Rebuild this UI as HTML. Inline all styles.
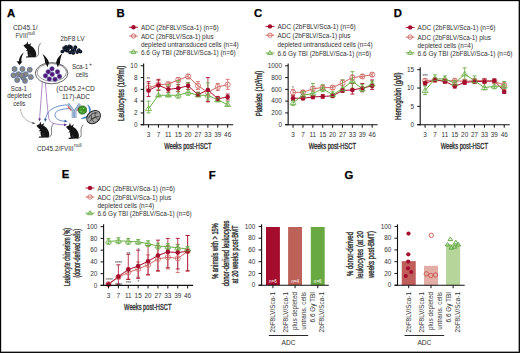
<!DOCTYPE html><html><head><meta charset="utf-8"><style>html,body{margin:0;padding:0;background:#fff;overflow:hidden;font-family:"Liberation Sans",sans-serif}svg{display:block}</style></head><body><svg width="520" height="353" viewBox="0 0 520 353" font-family="'Liberation Sans', sans-serif">
<rect x="0" y="0" width="520" height="353" fill="#fff"/>
<text x="7.00" y="16.90" font-size="11.3" fill="#000" font-weight="bold" stroke="#000" stroke-width="0.25">A</text>
<text x="116.60" y="17.00" font-size="11.3" fill="#000" font-weight="bold" stroke="#000" stroke-width="0.25">B</text>
<text x="254.00" y="17.10" font-size="11.3" fill="#000" font-weight="bold" stroke="#000" stroke-width="0.25">C</text>
<text x="393.70" y="16.90" font-size="11.3" fill="#000" font-weight="bold" stroke="#000" stroke-width="0.25">D</text>
<text x="61.80" y="178.30" font-size="11.3" fill="#000" font-weight="bold" stroke="#000" stroke-width="0.25">E</text>
<text x="208.80" y="178.60" font-size="11.3" fill="#000" font-weight="bold" stroke="#000" stroke-width="0.25">F</text>
<text x="344.40" y="178.80" font-size="11.3" fill="#000" font-weight="bold" stroke="#000" stroke-width="0.25">G</text>
<line x1="129.10" y1="27.25" x2="137.90" y2="27.25" stroke="#a50d2e" stroke-width="1" />
<circle cx="133.50" cy="27.25" r="2.2" fill="#a50d2e"/>
<text x="140.90" y="29.95" font-size="6.4" fill="#333" textLength="77.85" lengthAdjust="spacingAndGlyphs" >ADC (2bF8LV/Sca-1) (n=6)</text>
<line x1="129.10" y1="36.00" x2="137.90" y2="36.00" stroke="#cf6a66" stroke-width="1" />
<circle cx="133.50" cy="36.00" r="2.2" fill="none" stroke="#cf6a66" stroke-width="0.9"/>
<text x="140.90" y="38.70" font-size="6.4" fill="#333" textLength="72.85" lengthAdjust="spacingAndGlyphs" >ADC (2bF8LV/Sca-1) plus</text>
<text x="140.90" y="46.50" font-size="6.4" fill="#333" textLength="97.85" lengthAdjust="spacingAndGlyphs" >depleted untransduced cells (n=4)</text>
<line x1="129.10" y1="51.90" x2="137.90" y2="51.90" stroke="#6aad45" stroke-width="1" />
<path d="M133.50,49.43 L136.02,53.42 L130.98,53.42 Z" fill="none" stroke="#6aad45" stroke-width="0.9" stroke-linejoin="round"/>
<text x="140.90" y="54.60" font-size="6.4" fill="#333" textLength="94.85" lengthAdjust="spacingAndGlyphs" >6.6 Gy TBI (2bF8LV/Sca-1) (n=6)</text>
<line x1="148.55" y1="83.47" x2="148.55" y2="91.72" stroke="#cf6a66" stroke-width="0.8" />
<line x1="146.55" y1="83.47" x2="150.55" y2="83.47" stroke="#cf6a66" stroke-width="0.9" />
<line x1="146.55" y1="91.72" x2="150.55" y2="91.72" stroke="#cf6a66" stroke-width="0.9" />
<line x1="158.44" y1="80.53" x2="158.44" y2="89.36" stroke="#cf6a66" stroke-width="0.8" />
<line x1="156.44" y1="80.53" x2="160.44" y2="80.53" stroke="#cf6a66" stroke-width="0.9" />
<line x1="156.44" y1="89.36" x2="160.44" y2="89.36" stroke="#cf6a66" stroke-width="0.9" />
<line x1="168.33" y1="82.29" x2="168.33" y2="86.42" stroke="#cf6a66" stroke-width="0.8" />
<line x1="166.33" y1="82.29" x2="170.33" y2="82.29" stroke="#cf6a66" stroke-width="0.9" />
<line x1="166.33" y1="86.42" x2="170.33" y2="86.42" stroke="#cf6a66" stroke-width="0.9" />
<line x1="178.22" y1="77.58" x2="178.22" y2="82.29" stroke="#cf6a66" stroke-width="0.8" />
<line x1="176.22" y1="77.58" x2="180.22" y2="77.58" stroke="#cf6a66" stroke-width="0.9" />
<line x1="176.22" y1="82.29" x2="180.22" y2="82.29" stroke="#cf6a66" stroke-width="0.9" />
<line x1="188.11" y1="74.64" x2="188.11" y2="78.76" stroke="#cf6a66" stroke-width="0.8" />
<line x1="186.11" y1="74.64" x2="190.11" y2="74.64" stroke="#cf6a66" stroke-width="0.9" />
<line x1="186.11" y1="78.76" x2="190.11" y2="78.76" stroke="#cf6a66" stroke-width="0.9" />
<line x1="198.00" y1="81.70" x2="198.00" y2="89.36" stroke="#cf6a66" stroke-width="0.8" />
<line x1="196.00" y1="81.70" x2="200.00" y2="81.70" stroke="#cf6a66" stroke-width="0.9" />
<line x1="196.00" y1="89.36" x2="200.00" y2="89.36" stroke="#cf6a66" stroke-width="0.9" />
<line x1="207.89" y1="89.36" x2="207.89" y2="101.73" stroke="#cf6a66" stroke-width="0.8" />
<line x1="205.89" y1="89.36" x2="209.89" y2="89.36" stroke="#cf6a66" stroke-width="0.9" />
<line x1="205.89" y1="101.73" x2="209.89" y2="101.73" stroke="#cf6a66" stroke-width="0.9" />
<line x1="217.78" y1="83.47" x2="217.78" y2="90.54" stroke="#cf6a66" stroke-width="0.8" />
<line x1="215.78" y1="83.47" x2="219.78" y2="83.47" stroke="#cf6a66" stroke-width="0.9" />
<line x1="215.78" y1="90.54" x2="219.78" y2="90.54" stroke="#cf6a66" stroke-width="0.9" />
<line x1="227.67" y1="79.35" x2="227.67" y2="89.36" stroke="#cf6a66" stroke-width="0.8" />
<line x1="225.67" y1="79.35" x2="229.67" y2="79.35" stroke="#cf6a66" stroke-width="0.9" />
<line x1="225.67" y1="89.36" x2="229.67" y2="89.36" stroke="#cf6a66" stroke-width="0.9" />
<path d="M148.55,87.59 L158.44,84.65 L168.33,84.06 L178.22,79.94 L188.11,76.40 L198.00,85.83 L207.89,92.31 L217.78,87.00 L227.67,84.65" fill="none" stroke="#cf6a66" stroke-width="1.0"/>
<line x1="148.55" y1="81.70" x2="148.55" y2="96.43" stroke="#a50d2e" stroke-width="0.8" />
<line x1="146.55" y1="81.70" x2="150.55" y2="81.70" stroke="#a50d2e" stroke-width="0.9" />
<line x1="146.55" y1="96.43" x2="150.55" y2="96.43" stroke="#a50d2e" stroke-width="0.9" />
<line x1="158.44" y1="79.35" x2="158.44" y2="90.54" stroke="#a50d2e" stroke-width="0.8" />
<line x1="156.44" y1="79.35" x2="160.44" y2="79.35" stroke="#a50d2e" stroke-width="0.9" />
<line x1="156.44" y1="90.54" x2="160.44" y2="90.54" stroke="#a50d2e" stroke-width="0.9" />
<line x1="168.33" y1="86.42" x2="168.33" y2="92.31" stroke="#a50d2e" stroke-width="0.8" />
<line x1="166.33" y1="86.42" x2="170.33" y2="86.42" stroke="#a50d2e" stroke-width="0.9" />
<line x1="166.33" y1="92.31" x2="170.33" y2="92.31" stroke="#a50d2e" stroke-width="0.9" />
<line x1="178.22" y1="84.65" x2="178.22" y2="91.72" stroke="#a50d2e" stroke-width="0.8" />
<line x1="176.22" y1="84.65" x2="180.22" y2="84.65" stroke="#a50d2e" stroke-width="0.9" />
<line x1="176.22" y1="91.72" x2="180.22" y2="91.72" stroke="#a50d2e" stroke-width="0.9" />
<line x1="188.11" y1="82.88" x2="188.11" y2="89.36" stroke="#a50d2e" stroke-width="0.8" />
<line x1="186.11" y1="82.88" x2="190.11" y2="82.88" stroke="#a50d2e" stroke-width="0.9" />
<line x1="186.11" y1="89.36" x2="190.11" y2="89.36" stroke="#a50d2e" stroke-width="0.9" />
<line x1="198.00" y1="92.31" x2="198.00" y2="96.43" stroke="#a50d2e" stroke-width="0.8" />
<line x1="196.00" y1="92.31" x2="200.00" y2="92.31" stroke="#a50d2e" stroke-width="0.9" />
<line x1="196.00" y1="96.43" x2="200.00" y2="96.43" stroke="#a50d2e" stroke-width="0.9" />
<line x1="207.89" y1="77.58" x2="207.89" y2="101.73" stroke="#a50d2e" stroke-width="0.8" />
<line x1="205.89" y1="77.58" x2="209.89" y2="77.58" stroke="#a50d2e" stroke-width="0.9" />
<line x1="205.89" y1="101.73" x2="209.89" y2="101.73" stroke="#a50d2e" stroke-width="0.9" />
<line x1="217.78" y1="96.43" x2="217.78" y2="101.14" stroke="#a50d2e" stroke-width="0.8" />
<line x1="215.78" y1="96.43" x2="219.78" y2="96.43" stroke="#a50d2e" stroke-width="0.9" />
<line x1="215.78" y1="101.14" x2="219.78" y2="101.14" stroke="#a50d2e" stroke-width="0.9" />
<line x1="227.67" y1="94.07" x2="227.67" y2="99.96" stroke="#a50d2e" stroke-width="0.8" />
<line x1="225.67" y1="94.07" x2="229.67" y2="94.07" stroke="#a50d2e" stroke-width="0.9" />
<line x1="225.67" y1="99.96" x2="229.67" y2="99.96" stroke="#a50d2e" stroke-width="0.9" />
<path d="M148.55,90.54 L158.44,85.24 L168.33,89.36 L178.22,88.18 L188.11,85.83 L198.00,94.66 L207.89,89.95 L217.78,98.78 L227.67,97.02" fill="none" stroke="#a50d2e" stroke-width="1.0"/>
<line x1="148.55" y1="101.14" x2="148.55" y2="112.92" stroke="#6aad45" stroke-width="0.8" />
<line x1="146.55" y1="101.14" x2="150.55" y2="101.14" stroke="#6aad45" stroke-width="0.9" />
<line x1="146.55" y1="112.92" x2="150.55" y2="112.92" stroke="#6aad45" stroke-width="0.9" />
<line x1="158.44" y1="84.65" x2="158.44" y2="96.43" stroke="#6aad45" stroke-width="0.8" />
<line x1="156.44" y1="84.65" x2="160.44" y2="84.65" stroke="#6aad45" stroke-width="0.9" />
<line x1="156.44" y1="96.43" x2="160.44" y2="96.43" stroke="#6aad45" stroke-width="0.9" />
<line x1="168.33" y1="84.65" x2="168.33" y2="96.43" stroke="#6aad45" stroke-width="0.8" />
<line x1="166.33" y1="84.65" x2="170.33" y2="84.65" stroke="#6aad45" stroke-width="0.9" />
<line x1="166.33" y1="96.43" x2="170.33" y2="96.43" stroke="#6aad45" stroke-width="0.9" />
<line x1="178.22" y1="80.53" x2="178.22" y2="98.20" stroke="#6aad45" stroke-width="0.8" />
<line x1="176.22" y1="80.53" x2="180.22" y2="80.53" stroke="#6aad45" stroke-width="0.9" />
<line x1="176.22" y1="98.20" x2="180.22" y2="98.20" stroke="#6aad45" stroke-width="0.9" />
<line x1="188.11" y1="82.88" x2="188.11" y2="95.25" stroke="#6aad45" stroke-width="0.8" />
<line x1="186.11" y1="82.88" x2="190.11" y2="82.88" stroke="#6aad45" stroke-width="0.9" />
<line x1="186.11" y1="95.25" x2="190.11" y2="95.25" stroke="#6aad45" stroke-width="0.9" />
<line x1="198.00" y1="92.31" x2="198.00" y2="96.43" stroke="#6aad45" stroke-width="0.8" />
<line x1="196.00" y1="92.31" x2="200.00" y2="92.31" stroke="#6aad45" stroke-width="0.9" />
<line x1="196.00" y1="96.43" x2="200.00" y2="96.43" stroke="#6aad45" stroke-width="0.9" />
<line x1="207.89" y1="82.88" x2="207.89" y2="99.96" stroke="#6aad45" stroke-width="0.8" />
<line x1="205.89" y1="82.88" x2="209.89" y2="82.88" stroke="#6aad45" stroke-width="0.9" />
<line x1="205.89" y1="99.96" x2="209.89" y2="99.96" stroke="#6aad45" stroke-width="0.9" />
<line x1="217.78" y1="97.61" x2="217.78" y2="101.73" stroke="#6aad45" stroke-width="0.8" />
<line x1="215.78" y1="97.61" x2="219.78" y2="97.61" stroke="#6aad45" stroke-width="0.9" />
<line x1="215.78" y1="101.73" x2="219.78" y2="101.73" stroke="#6aad45" stroke-width="0.9" />
<line x1="227.67" y1="101.73" x2="227.67" y2="105.85" stroke="#6aad45" stroke-width="0.8" />
<line x1="225.67" y1="101.73" x2="229.67" y2="101.73" stroke="#6aad45" stroke-width="0.9" />
<line x1="225.67" y1="105.85" x2="229.67" y2="105.85" stroke="#6aad45" stroke-width="0.9" />
<path d="M148.55,108.80 L158.44,95.25 L168.33,95.25 L178.22,95.25 L188.11,92.31 L198.00,95.25 L207.89,95.25 L217.78,99.96 L227.67,104.67" fill="none" stroke="#6aad45" stroke-width="1.0"/>
<circle cx="148.55" cy="87.59" r="2.6" fill="none" stroke="#cf6a66" stroke-width="0.8"/>
<circle cx="158.44" cy="84.65" r="2.6" fill="none" stroke="#cf6a66" stroke-width="0.8"/>
<circle cx="168.33" cy="84.06" r="2.6" fill="none" stroke="#cf6a66" stroke-width="0.8"/>
<circle cx="178.22" cy="79.94" r="2.6" fill="none" stroke="#cf6a66" stroke-width="0.8"/>
<circle cx="188.11" cy="76.40" r="2.6" fill="none" stroke="#cf6a66" stroke-width="0.8"/>
<circle cx="198.00" cy="85.83" r="2.6" fill="none" stroke="#cf6a66" stroke-width="0.8"/>
<circle cx="207.89" cy="92.31" r="2.6" fill="none" stroke="#cf6a66" stroke-width="0.8"/>
<circle cx="217.78" cy="87.00" r="2.6" fill="none" stroke="#cf6a66" stroke-width="0.8"/>
<circle cx="227.67" cy="84.65" r="2.6" fill="none" stroke="#cf6a66" stroke-width="0.8"/>
<circle cx="148.55" cy="90.54" r="2.3" fill="#a50d2e"/>
<circle cx="158.44" cy="85.24" r="2.3" fill="#a50d2e"/>
<circle cx="168.33" cy="89.36" r="2.3" fill="#a50d2e"/>
<circle cx="178.22" cy="88.18" r="2.3" fill="#a50d2e"/>
<circle cx="188.11" cy="85.83" r="2.3" fill="#a50d2e"/>
<circle cx="198.00" cy="94.66" r="2.3" fill="#a50d2e"/>
<circle cx="207.89" cy="89.95" r="2.3" fill="#a50d2e"/>
<circle cx="217.78" cy="98.78" r="2.3" fill="#a50d2e"/>
<circle cx="227.67" cy="97.02" r="2.3" fill="#a50d2e"/>
<path d="M148.55,105.85 L151.55,110.60 L145.55,110.60 Z" fill="none" stroke="#6aad45" stroke-width="0.8" stroke-linejoin="round"/>
<path d="M158.44,92.31 L161.44,97.06 L155.44,97.06 Z" fill="none" stroke="#6aad45" stroke-width="0.8" stroke-linejoin="round"/>
<path d="M168.33,92.31 L171.33,97.06 L165.33,97.06 Z" fill="none" stroke="#6aad45" stroke-width="0.8" stroke-linejoin="round"/>
<path d="M178.22,92.31 L181.22,97.06 L175.22,97.06 Z" fill="none" stroke="#6aad45" stroke-width="0.8" stroke-linejoin="round"/>
<path d="M188.11,89.36 L191.11,94.11 L185.11,94.11 Z" fill="none" stroke="#6aad45" stroke-width="0.8" stroke-linejoin="round"/>
<path d="M198.00,92.31 L201.00,97.06 L195.00,97.06 Z" fill="none" stroke="#6aad45" stroke-width="0.8" stroke-linejoin="round"/>
<path d="M207.89,92.31 L210.89,97.06 L204.89,97.06 Z" fill="none" stroke="#6aad45" stroke-width="0.8" stroke-linejoin="round"/>
<path d="M217.78,97.02 L220.78,101.77 L214.78,101.77 Z" fill="none" stroke="#6aad45" stroke-width="0.8" stroke-linejoin="round"/>
<path d="M227.67,101.73 L230.67,106.48 L224.67,106.48 Z" fill="none" stroke="#6aad45" stroke-width="0.8" stroke-linejoin="round"/>
<line x1="143.65" y1="63.40" x2="143.65" y2="125.20" stroke="#111" stroke-width="1.1" />
<line x1="140.65" y1="124.70" x2="233.17" y2="124.70" stroke="#111" stroke-width="1.1" />
<line x1="140.65" y1="124.70" x2="143.65" y2="124.70" stroke="#111" stroke-width="1" />
<text x="137.45" y="126.90" font-size="6.4" fill="#333" text-anchor="end" >0</text>
<line x1="140.65" y1="112.92" x2="143.65" y2="112.92" stroke="#111" stroke-width="1" />
<text x="137.45" y="115.12" font-size="6.4" fill="#333" text-anchor="end" >2</text>
<line x1="140.65" y1="101.14" x2="143.65" y2="101.14" stroke="#111" stroke-width="1" />
<text x="137.45" y="103.34" font-size="6.4" fill="#333" text-anchor="end" >4</text>
<line x1="140.65" y1="89.36" x2="143.65" y2="89.36" stroke="#111" stroke-width="1" />
<text x="137.45" y="91.56" font-size="6.4" fill="#333" text-anchor="end" >6</text>
<line x1="140.65" y1="77.58" x2="143.65" y2="77.58" stroke="#111" stroke-width="1" />
<text x="137.45" y="79.78" font-size="6.4" fill="#333" text-anchor="end" >8</text>
<line x1="140.65" y1="65.80" x2="143.65" y2="65.80" stroke="#111" stroke-width="1" />
<text x="137.45" y="68.00" font-size="6.4" fill="#333" text-anchor="end" >10</text>
<line x1="148.55" y1="124.70" x2="148.55" y2="127.70" stroke="#111" stroke-width="1" />
<text x="148.55" y="136.90" font-size="6.4" fill="#333" text-anchor="middle" >3</text>
<line x1="158.44" y1="124.70" x2="158.44" y2="127.70" stroke="#111" stroke-width="1" />
<text x="158.44" y="136.90" font-size="6.4" fill="#333" text-anchor="middle" >7</text>
<line x1="168.33" y1="124.70" x2="168.33" y2="127.70" stroke="#111" stroke-width="1" />
<text x="168.33" y="136.90" font-size="6.4" fill="#333" text-anchor="middle" >11</text>
<line x1="178.22" y1="124.70" x2="178.22" y2="127.70" stroke="#111" stroke-width="1" />
<text x="178.22" y="136.90" font-size="6.4" fill="#333" text-anchor="middle" >15</text>
<line x1="188.11" y1="124.70" x2="188.11" y2="127.70" stroke="#111" stroke-width="1" />
<text x="188.11" y="136.90" font-size="6.4" fill="#333" text-anchor="middle" >20</text>
<line x1="198.00" y1="124.70" x2="198.00" y2="127.70" stroke="#111" stroke-width="1" />
<text x="198.00" y="136.90" font-size="6.4" fill="#333" text-anchor="middle" >27</text>
<line x1="207.89" y1="124.70" x2="207.89" y2="127.70" stroke="#111" stroke-width="1" />
<text x="207.89" y="136.90" font-size="6.4" fill="#333" text-anchor="middle" >33</text>
<line x1="217.78" y1="124.70" x2="217.78" y2="127.70" stroke="#111" stroke-width="1" />
<text x="217.78" y="136.90" font-size="6.4" fill="#333" text-anchor="middle" >39</text>
<line x1="227.67" y1="124.70" x2="227.67" y2="127.70" stroke="#111" stroke-width="1" />
<text x="227.67" y="136.90" font-size="6.4" fill="#333" text-anchor="middle" >46</text>
<text x="187.81" y="148.80" font-size="9.0" fill="#333" text-anchor="middle" textLength="47.30" lengthAdjust="spacingAndGlyphs" stroke="#333" stroke-width="0.4">Weeks post-HSCT</text>
<text x="0" y="0" font-size="9.0" font-weight="normal" fill="#333" stroke="#333" stroke-width="0.4" text-anchor="middle" textLength="55.20" lengthAdjust="spacingAndGlyphs" transform="translate(124.40 93.30) rotate(-90)">Leukocytes (10<tspan font-size="5.2" dy="-2.8">6</tspan><tspan dy="2.8">/ml)</tspan></text>
<text x="148.30" y="80.60" font-size="5.6" fill="#333" text-anchor="middle" textLength="3.50" lengthAdjust="spacingAndGlyphs" >**</text>
<line x1="265.60" y1="26.40" x2="274.40" y2="26.40" stroke="#a50d2e" stroke-width="1" />
<circle cx="270.00" cy="26.40" r="2.2" fill="#a50d2e"/>
<text x="277.40" y="29.10" font-size="6.4" fill="#333" textLength="78.35" lengthAdjust="spacingAndGlyphs" >ADC (2bF8LV/Sca-1) (n=6)</text>
<line x1="265.60" y1="35.20" x2="274.40" y2="35.20" stroke="#cf6a66" stroke-width="1" />
<circle cx="270.00" cy="35.20" r="2.2" fill="none" stroke="#cf6a66" stroke-width="0.9"/>
<text x="277.40" y="37.90" font-size="6.4" fill="#333" textLength="73.10" lengthAdjust="spacingAndGlyphs" >ADC (2bF8LV/Sca-1) plus</text>
<text x="277.40" y="46.60" font-size="6.4" fill="#333" textLength="95.10" lengthAdjust="spacingAndGlyphs" >depleted untransduced cells (n=4)</text>
<line x1="265.60" y1="53.00" x2="274.40" y2="53.00" stroke="#6aad45" stroke-width="1" />
<path d="M270.00,50.53 L272.52,54.52 L267.48,54.52 Z" fill="none" stroke="#6aad45" stroke-width="0.9" stroke-linejoin="round"/>
<text x="277.40" y="55.70" font-size="6.4" fill="#333" textLength="93.85" lengthAdjust="spacingAndGlyphs" >6.6 Gy TBI (2bF8LV/Sca-1) (n=6)</text>
<line x1="293.05" y1="89.36" x2="293.05" y2="95.25" stroke="#cf6a66" stroke-width="0.8" />
<line x1="291.05" y1="89.36" x2="295.05" y2="89.36" stroke="#cf6a66" stroke-width="0.9" />
<line x1="291.05" y1="95.25" x2="295.05" y2="95.25" stroke="#cf6a66" stroke-width="0.9" />
<line x1="302.94" y1="90.54" x2="302.94" y2="94.07" stroke="#cf6a66" stroke-width="0.8" />
<line x1="300.94" y1="90.54" x2="304.94" y2="90.54" stroke="#cf6a66" stroke-width="0.9" />
<line x1="300.94" y1="94.07" x2="304.94" y2="94.07" stroke="#cf6a66" stroke-width="0.9" />
<line x1="312.83" y1="86.41" x2="312.83" y2="91.13" stroke="#cf6a66" stroke-width="0.8" />
<line x1="310.83" y1="86.41" x2="314.83" y2="86.41" stroke="#cf6a66" stroke-width="0.9" />
<line x1="310.83" y1="91.13" x2="314.83" y2="91.13" stroke="#cf6a66" stroke-width="0.9" />
<line x1="322.72" y1="85.83" x2="322.72" y2="89.36" stroke="#cf6a66" stroke-width="0.8" />
<line x1="320.72" y1="85.83" x2="324.72" y2="85.83" stroke="#cf6a66" stroke-width="0.9" />
<line x1="320.72" y1="89.36" x2="324.72" y2="89.36" stroke="#cf6a66" stroke-width="0.9" />
<line x1="332.61" y1="85.83" x2="332.61" y2="89.36" stroke="#cf6a66" stroke-width="0.8" />
<line x1="330.61" y1="85.83" x2="334.61" y2="85.83" stroke="#cf6a66" stroke-width="0.9" />
<line x1="330.61" y1="89.36" x2="334.61" y2="89.36" stroke="#cf6a66" stroke-width="0.9" />
<line x1="342.50" y1="79.94" x2="342.50" y2="85.83" stroke="#cf6a66" stroke-width="0.8" />
<line x1="340.50" y1="79.94" x2="344.50" y2="79.94" stroke="#cf6a66" stroke-width="0.9" />
<line x1="340.50" y1="85.83" x2="344.50" y2="85.83" stroke="#cf6a66" stroke-width="0.9" />
<line x1="352.39" y1="75.22" x2="352.39" y2="79.94" stroke="#cf6a66" stroke-width="0.8" />
<line x1="350.39" y1="75.22" x2="354.39" y2="75.22" stroke="#cf6a66" stroke-width="0.9" />
<line x1="350.39" y1="79.94" x2="354.39" y2="79.94" stroke="#cf6a66" stroke-width="0.9" />
<line x1="362.28" y1="74.64" x2="362.28" y2="78.17" stroke="#cf6a66" stroke-width="0.8" />
<line x1="360.28" y1="74.64" x2="364.28" y2="74.64" stroke="#cf6a66" stroke-width="0.9" />
<line x1="360.28" y1="78.17" x2="364.28" y2="78.17" stroke="#cf6a66" stroke-width="0.9" />
<line x1="372.17" y1="72.87" x2="372.17" y2="76.40" stroke="#cf6a66" stroke-width="0.8" />
<line x1="370.17" y1="72.87" x2="374.17" y2="72.87" stroke="#cf6a66" stroke-width="0.9" />
<line x1="370.17" y1="76.40" x2="374.17" y2="76.40" stroke="#cf6a66" stroke-width="0.9" />
<path d="M293.05,92.31 L302.94,92.31 L312.83,88.77 L322.72,87.59 L332.61,87.59 L342.50,82.88 L352.39,77.58 L362.28,76.40 L372.17,74.64" fill="none" stroke="#cf6a66" stroke-width="1.0"/>
<line x1="293.05" y1="95.84" x2="293.05" y2="100.55" stroke="#a50d2e" stroke-width="0.8" />
<line x1="291.05" y1="95.84" x2="295.05" y2="95.84" stroke="#a50d2e" stroke-width="0.9" />
<line x1="291.05" y1="100.55" x2="295.05" y2="100.55" stroke="#a50d2e" stroke-width="0.9" />
<line x1="302.94" y1="96.43" x2="302.94" y2="99.96" stroke="#a50d2e" stroke-width="0.8" />
<line x1="300.94" y1="96.43" x2="304.94" y2="96.43" stroke="#a50d2e" stroke-width="0.9" />
<line x1="300.94" y1="99.96" x2="304.94" y2="99.96" stroke="#a50d2e" stroke-width="0.9" />
<line x1="312.83" y1="95.25" x2="312.83" y2="98.78" stroke="#a50d2e" stroke-width="0.8" />
<line x1="310.83" y1="95.25" x2="314.83" y2="95.25" stroke="#a50d2e" stroke-width="0.9" />
<line x1="310.83" y1="98.78" x2="314.83" y2="98.78" stroke="#a50d2e" stroke-width="0.9" />
<line x1="322.72" y1="94.66" x2="322.72" y2="98.20" stroke="#a50d2e" stroke-width="0.8" />
<line x1="320.72" y1="94.66" x2="324.72" y2="94.66" stroke="#a50d2e" stroke-width="0.9" />
<line x1="320.72" y1="98.20" x2="324.72" y2="98.20" stroke="#a50d2e" stroke-width="0.9" />
<line x1="332.61" y1="94.07" x2="332.61" y2="97.61" stroke="#a50d2e" stroke-width="0.8" />
<line x1="330.61" y1="94.07" x2="334.61" y2="94.07" stroke="#a50d2e" stroke-width="0.9" />
<line x1="330.61" y1="97.61" x2="334.61" y2="97.61" stroke="#a50d2e" stroke-width="0.9" />
<line x1="342.50" y1="88.77" x2="342.50" y2="92.31" stroke="#a50d2e" stroke-width="0.8" />
<line x1="340.50" y1="88.77" x2="344.50" y2="88.77" stroke="#a50d2e" stroke-width="0.9" />
<line x1="340.50" y1="92.31" x2="344.50" y2="92.31" stroke="#a50d2e" stroke-width="0.9" />
<line x1="352.39" y1="83.47" x2="352.39" y2="94.07" stroke="#a50d2e" stroke-width="0.8" />
<line x1="350.39" y1="83.47" x2="354.39" y2="83.47" stroke="#a50d2e" stroke-width="0.9" />
<line x1="350.39" y1="94.07" x2="354.39" y2="94.07" stroke="#a50d2e" stroke-width="0.9" />
<line x1="362.28" y1="83.47" x2="362.28" y2="91.72" stroke="#a50d2e" stroke-width="0.8" />
<line x1="360.28" y1="83.47" x2="364.28" y2="83.47" stroke="#a50d2e" stroke-width="0.9" />
<line x1="360.28" y1="91.72" x2="364.28" y2="91.72" stroke="#a50d2e" stroke-width="0.9" />
<line x1="372.17" y1="79.94" x2="372.17" y2="89.36" stroke="#a50d2e" stroke-width="0.8" />
<line x1="370.17" y1="79.94" x2="374.17" y2="79.94" stroke="#a50d2e" stroke-width="0.9" />
<line x1="370.17" y1="89.36" x2="374.17" y2="89.36" stroke="#a50d2e" stroke-width="0.9" />
<path d="M293.05,98.20 L302.94,98.20 L312.83,97.02 L322.72,96.43 L332.61,95.84 L342.50,90.54 L352.39,89.95 L362.28,88.18 L372.17,85.83" fill="none" stroke="#a50d2e" stroke-width="1.0"/>
<line x1="293.05" y1="99.96" x2="293.05" y2="105.26" stroke="#6aad45" stroke-width="0.8" />
<line x1="291.05" y1="99.96" x2="295.05" y2="99.96" stroke="#6aad45" stroke-width="0.9" />
<line x1="291.05" y1="105.26" x2="295.05" y2="105.26" stroke="#6aad45" stroke-width="0.9" />
<line x1="302.94" y1="91.72" x2="302.94" y2="97.61" stroke="#6aad45" stroke-width="0.8" />
<line x1="300.94" y1="91.72" x2="304.94" y2="91.72" stroke="#6aad45" stroke-width="0.9" />
<line x1="300.94" y1="97.61" x2="304.94" y2="97.61" stroke="#6aad45" stroke-width="0.9" />
<line x1="312.83" y1="83.47" x2="312.83" y2="96.43" stroke="#6aad45" stroke-width="0.8" />
<line x1="310.83" y1="83.47" x2="314.83" y2="83.47" stroke="#6aad45" stroke-width="0.9" />
<line x1="310.83" y1="96.43" x2="314.83" y2="96.43" stroke="#6aad45" stroke-width="0.9" />
<line x1="322.72" y1="84.65" x2="322.72" y2="91.72" stroke="#6aad45" stroke-width="0.8" />
<line x1="320.72" y1="84.65" x2="324.72" y2="84.65" stroke="#6aad45" stroke-width="0.9" />
<line x1="320.72" y1="91.72" x2="324.72" y2="91.72" stroke="#6aad45" stroke-width="0.9" />
<line x1="332.61" y1="91.72" x2="332.61" y2="97.02" stroke="#6aad45" stroke-width="0.8" />
<line x1="330.61" y1="91.72" x2="334.61" y2="91.72" stroke="#6aad45" stroke-width="0.9" />
<line x1="330.61" y1="97.02" x2="334.61" y2="97.02" stroke="#6aad45" stroke-width="0.9" />
<line x1="342.50" y1="79.94" x2="342.50" y2="91.72" stroke="#6aad45" stroke-width="0.8" />
<line x1="340.50" y1="79.94" x2="344.50" y2="79.94" stroke="#6aad45" stroke-width="0.9" />
<line x1="340.50" y1="91.72" x2="344.50" y2="91.72" stroke="#6aad45" stroke-width="0.9" />
<line x1="352.39" y1="71.69" x2="352.39" y2="88.18" stroke="#6aad45" stroke-width="0.8" />
<line x1="350.39" y1="71.69" x2="354.39" y2="71.69" stroke="#6aad45" stroke-width="0.9" />
<line x1="350.39" y1="88.18" x2="354.39" y2="88.18" stroke="#6aad45" stroke-width="0.9" />
<line x1="362.28" y1="84.65" x2="362.28" y2="91.72" stroke="#6aad45" stroke-width="0.8" />
<line x1="360.28" y1="84.65" x2="364.28" y2="84.65" stroke="#6aad45" stroke-width="0.9" />
<line x1="360.28" y1="91.72" x2="364.28" y2="91.72" stroke="#6aad45" stroke-width="0.9" />
<line x1="372.17" y1="81.11" x2="372.17" y2="87.00" stroke="#6aad45" stroke-width="0.8" />
<line x1="370.17" y1="81.11" x2="374.17" y2="81.11" stroke="#6aad45" stroke-width="0.9" />
<line x1="370.17" y1="87.00" x2="374.17" y2="87.00" stroke="#6aad45" stroke-width="0.9" />
<path d="M293.05,102.91 L302.94,95.25 L312.83,93.48 L322.72,88.77 L332.61,94.66 L342.50,88.77 L352.39,81.11 L362.28,88.77 L372.17,84.06" fill="none" stroke="#6aad45" stroke-width="1.0"/>
<circle cx="293.05" cy="92.31" r="2.6" fill="none" stroke="#cf6a66" stroke-width="0.8"/>
<circle cx="302.94" cy="92.31" r="2.6" fill="none" stroke="#cf6a66" stroke-width="0.8"/>
<circle cx="312.83" cy="88.77" r="2.6" fill="none" stroke="#cf6a66" stroke-width="0.8"/>
<circle cx="322.72" cy="87.59" r="2.6" fill="none" stroke="#cf6a66" stroke-width="0.8"/>
<circle cx="332.61" cy="87.59" r="2.6" fill="none" stroke="#cf6a66" stroke-width="0.8"/>
<circle cx="342.50" cy="82.88" r="2.6" fill="none" stroke="#cf6a66" stroke-width="0.8"/>
<circle cx="352.39" cy="77.58" r="2.6" fill="none" stroke="#cf6a66" stroke-width="0.8"/>
<circle cx="362.28" cy="76.40" r="2.6" fill="none" stroke="#cf6a66" stroke-width="0.8"/>
<circle cx="372.17" cy="74.64" r="2.6" fill="none" stroke="#cf6a66" stroke-width="0.8"/>
<circle cx="293.05" cy="98.20" r="2.3" fill="#a50d2e"/>
<circle cx="302.94" cy="98.20" r="2.3" fill="#a50d2e"/>
<circle cx="312.83" cy="97.02" r="2.3" fill="#a50d2e"/>
<circle cx="322.72" cy="96.43" r="2.3" fill="#a50d2e"/>
<circle cx="332.61" cy="95.84" r="2.3" fill="#a50d2e"/>
<circle cx="342.50" cy="90.54" r="2.3" fill="#a50d2e"/>
<circle cx="352.39" cy="89.95" r="2.3" fill="#a50d2e"/>
<circle cx="362.28" cy="88.18" r="2.3" fill="#a50d2e"/>
<circle cx="372.17" cy="85.83" r="2.3" fill="#a50d2e"/>
<path d="M293.05,99.96 L296.05,104.71 L290.05,104.71 Z" fill="none" stroke="#6aad45" stroke-width="0.8" stroke-linejoin="round"/>
<path d="M302.94,92.31 L305.94,97.06 L299.94,97.06 Z" fill="none" stroke="#6aad45" stroke-width="0.8" stroke-linejoin="round"/>
<path d="M312.83,90.54 L315.83,95.29 L309.83,95.29 Z" fill="none" stroke="#6aad45" stroke-width="0.8" stroke-linejoin="round"/>
<path d="M322.72,85.83 L325.72,90.58 L319.72,90.58 Z" fill="none" stroke="#6aad45" stroke-width="0.8" stroke-linejoin="round"/>
<path d="M332.61,91.72 L335.61,96.47 L329.61,96.47 Z" fill="none" stroke="#6aad45" stroke-width="0.8" stroke-linejoin="round"/>
<path d="M342.50,85.83 L345.50,90.58 L339.50,90.58 Z" fill="none" stroke="#6aad45" stroke-width="0.8" stroke-linejoin="round"/>
<path d="M352.39,78.17 L355.39,82.92 L349.39,82.92 Z" fill="none" stroke="#6aad45" stroke-width="0.8" stroke-linejoin="round"/>
<path d="M362.28,85.83 L365.28,90.58 L359.28,90.58 Z" fill="none" stroke="#6aad45" stroke-width="0.8" stroke-linejoin="round"/>
<path d="M372.17,81.11 L375.17,85.86 L369.17,85.86 Z" fill="none" stroke="#6aad45" stroke-width="0.8" stroke-linejoin="round"/>
<line x1="288.15" y1="63.40" x2="288.15" y2="125.20" stroke="#111" stroke-width="1.1" />
<line x1="285.15" y1="124.70" x2="377.67" y2="124.70" stroke="#111" stroke-width="1.1" />
<line x1="285.15" y1="124.70" x2="288.15" y2="124.70" stroke="#111" stroke-width="1" />
<text x="281.95" y="126.90" font-size="6.4" fill="#333" text-anchor="end" >0</text>
<line x1="285.15" y1="112.92" x2="288.15" y2="112.92" stroke="#111" stroke-width="1" />
<text x="281.95" y="115.12" font-size="6.4" fill="#333" text-anchor="end" >200</text>
<line x1="285.15" y1="101.14" x2="288.15" y2="101.14" stroke="#111" stroke-width="1" />
<text x="281.95" y="103.34" font-size="6.4" fill="#333" text-anchor="end" >400</text>
<line x1="285.15" y1="89.36" x2="288.15" y2="89.36" stroke="#111" stroke-width="1" />
<text x="281.95" y="91.56" font-size="6.4" fill="#333" text-anchor="end" >600</text>
<line x1="285.15" y1="77.58" x2="288.15" y2="77.58" stroke="#111" stroke-width="1" />
<text x="281.95" y="79.78" font-size="6.4" fill="#333" text-anchor="end" >800</text>
<line x1="285.15" y1="65.80" x2="288.15" y2="65.80" stroke="#111" stroke-width="1" />
<text x="281.95" y="68.00" font-size="6.4" fill="#333" text-anchor="end" >1000</text>
<line x1="293.05" y1="124.70" x2="293.05" y2="127.70" stroke="#111" stroke-width="1" />
<text x="293.05" y="136.90" font-size="6.4" fill="#333" text-anchor="middle" >3</text>
<line x1="302.94" y1="124.70" x2="302.94" y2="127.70" stroke="#111" stroke-width="1" />
<text x="302.94" y="136.90" font-size="6.4" fill="#333" text-anchor="middle" >7</text>
<line x1="312.83" y1="124.70" x2="312.83" y2="127.70" stroke="#111" stroke-width="1" />
<text x="312.83" y="136.90" font-size="6.4" fill="#333" text-anchor="middle" >11</text>
<line x1="322.72" y1="124.70" x2="322.72" y2="127.70" stroke="#111" stroke-width="1" />
<text x="322.72" y="136.90" font-size="6.4" fill="#333" text-anchor="middle" >15</text>
<line x1="332.61" y1="124.70" x2="332.61" y2="127.70" stroke="#111" stroke-width="1" />
<text x="332.61" y="136.90" font-size="6.4" fill="#333" text-anchor="middle" >20</text>
<line x1="342.50" y1="124.70" x2="342.50" y2="127.70" stroke="#111" stroke-width="1" />
<text x="342.50" y="136.90" font-size="6.4" fill="#333" text-anchor="middle" >27</text>
<line x1="352.39" y1="124.70" x2="352.39" y2="127.70" stroke="#111" stroke-width="1" />
<text x="352.39" y="136.90" font-size="6.4" fill="#333" text-anchor="middle" >33</text>
<line x1="362.28" y1="124.70" x2="362.28" y2="127.70" stroke="#111" stroke-width="1" />
<text x="362.28" y="136.90" font-size="6.4" fill="#333" text-anchor="middle" >39</text>
<line x1="372.17" y1="124.70" x2="372.17" y2="127.70" stroke="#111" stroke-width="1" />
<text x="372.17" y="136.90" font-size="6.4" fill="#333" text-anchor="middle" >46</text>
<text x="332.31" y="148.80" font-size="9.0" fill="#333" text-anchor="middle" textLength="47.30" lengthAdjust="spacingAndGlyphs" stroke="#333" stroke-width="0.4">Weeks post-HSCT</text>
<text x="0" y="0" font-size="9.0" font-weight="normal" fill="#333" stroke="#333" stroke-width="0.4" text-anchor="middle" textLength="45.50" lengthAdjust="spacingAndGlyphs" transform="translate(262.00 93.60) rotate(-90)">Platelets (10<tspan font-size="5.2" dy="-2.8">3</tspan><tspan dy="2.8">/ml)</tspan></text>
<text x="292.80" y="89.50" font-size="5.6" fill="#333" text-anchor="middle" textLength="1.75" lengthAdjust="spacingAndGlyphs" >*</text>
<line x1="405.80" y1="27.40" x2="414.60" y2="27.40" stroke="#a50d2e" stroke-width="1" />
<circle cx="410.20" cy="27.40" r="2.2" fill="#a50d2e"/>
<text x="417.60" y="30.10" font-size="6.4" fill="#333" textLength="77.90" lengthAdjust="spacingAndGlyphs" >ADC (2bF8LV/Sca-1) (n=6)</text>
<line x1="405.80" y1="37.10" x2="414.60" y2="37.10" stroke="#cf6a66" stroke-width="1" />
<circle cx="410.20" cy="37.10" r="2.2" fill="none" stroke="#cf6a66" stroke-width="0.9"/>
<text x="417.60" y="39.80" font-size="6.4" fill="#333" textLength="73.40" lengthAdjust="spacingAndGlyphs" >ADC (2bF8LV/Sca-1) plus</text>
<text x="417.60" y="47.50" font-size="6.4" fill="#333" textLength="55.40" lengthAdjust="spacingAndGlyphs" >depleted cells (n=4)</text>
<line x1="405.80" y1="52.80" x2="414.60" y2="52.80" stroke="#6aad45" stroke-width="1" />
<path d="M410.20,50.33 L412.72,54.32 L407.68,54.32 Z" fill="none" stroke="#6aad45" stroke-width="0.9" stroke-linejoin="round"/>
<text x="417.60" y="55.50" font-size="6.4" fill="#333" textLength="94.90" lengthAdjust="spacingAndGlyphs" >6.6 Gy TBI (2bF8LV/Sca-1) (n=6)</text>
<line x1="425.10" y1="78.86" x2="425.10" y2="82.53" stroke="#cf6a66" stroke-width="0.8" />
<line x1="423.10" y1="78.86" x2="427.10" y2="78.86" stroke="#cf6a66" stroke-width="0.9" />
<line x1="423.10" y1="82.53" x2="427.10" y2="82.53" stroke="#cf6a66" stroke-width="0.9" />
<line x1="434.99" y1="78.50" x2="434.99" y2="81.43" stroke="#cf6a66" stroke-width="0.8" />
<line x1="432.99" y1="78.50" x2="436.99" y2="78.50" stroke="#cf6a66" stroke-width="0.9" />
<line x1="432.99" y1="81.43" x2="436.99" y2="81.43" stroke="#cf6a66" stroke-width="0.9" />
<line x1="444.88" y1="79.23" x2="444.88" y2="82.16" stroke="#cf6a66" stroke-width="0.8" />
<line x1="442.88" y1="79.23" x2="446.88" y2="79.23" stroke="#cf6a66" stroke-width="0.9" />
<line x1="442.88" y1="82.16" x2="446.88" y2="82.16" stroke="#cf6a66" stroke-width="0.9" />
<line x1="454.77" y1="78.86" x2="454.77" y2="82.53" stroke="#cf6a66" stroke-width="0.8" />
<line x1="452.77" y1="78.86" x2="456.77" y2="78.86" stroke="#cf6a66" stroke-width="0.9" />
<line x1="452.77" y1="82.53" x2="456.77" y2="82.53" stroke="#cf6a66" stroke-width="0.9" />
<line x1="464.66" y1="79.96" x2="464.66" y2="82.90" stroke="#cf6a66" stroke-width="0.8" />
<line x1="462.66" y1="79.96" x2="466.66" y2="79.96" stroke="#cf6a66" stroke-width="0.9" />
<line x1="462.66" y1="82.90" x2="466.66" y2="82.90" stroke="#cf6a66" stroke-width="0.9" />
<line x1="474.55" y1="78.86" x2="474.55" y2="82.53" stroke="#cf6a66" stroke-width="0.8" />
<line x1="472.55" y1="78.86" x2="476.55" y2="78.86" stroke="#cf6a66" stroke-width="0.9" />
<line x1="472.55" y1="82.53" x2="476.55" y2="82.53" stroke="#cf6a66" stroke-width="0.9" />
<line x1="484.44" y1="78.86" x2="484.44" y2="82.53" stroke="#cf6a66" stroke-width="0.8" />
<line x1="482.44" y1="78.86" x2="486.44" y2="78.86" stroke="#cf6a66" stroke-width="0.9" />
<line x1="482.44" y1="82.53" x2="486.44" y2="82.53" stroke="#cf6a66" stroke-width="0.9" />
<line x1="494.33" y1="79.96" x2="494.33" y2="82.90" stroke="#cf6a66" stroke-width="0.8" />
<line x1="492.33" y1="79.96" x2="496.33" y2="79.96" stroke="#cf6a66" stroke-width="0.9" />
<line x1="492.33" y1="82.90" x2="496.33" y2="82.90" stroke="#cf6a66" stroke-width="0.9" />
<line x1="504.22" y1="82.90" x2="504.22" y2="87.30" stroke="#cf6a66" stroke-width="0.8" />
<line x1="502.22" y1="82.90" x2="506.22" y2="82.90" stroke="#cf6a66" stroke-width="0.9" />
<line x1="502.22" y1="87.30" x2="506.22" y2="87.30" stroke="#cf6a66" stroke-width="0.9" />
<path d="M425.10,80.70 L434.99,79.96 L444.88,80.70 L454.77,80.70 L464.66,81.43 L474.55,80.70 L484.44,80.70 L494.33,81.43 L504.22,85.10" fill="none" stroke="#cf6a66" stroke-width="1.0"/>
<line x1="425.10" y1="81.43" x2="425.10" y2="85.10" stroke="#a50d2e" stroke-width="0.8" />
<line x1="423.10" y1="81.43" x2="427.10" y2="81.43" stroke="#a50d2e" stroke-width="0.9" />
<line x1="423.10" y1="85.10" x2="427.10" y2="85.10" stroke="#a50d2e" stroke-width="0.9" />
<line x1="434.99" y1="78.13" x2="434.99" y2="81.80" stroke="#a50d2e" stroke-width="0.8" />
<line x1="432.99" y1="78.13" x2="436.99" y2="78.13" stroke="#a50d2e" stroke-width="0.9" />
<line x1="432.99" y1="81.80" x2="436.99" y2="81.80" stroke="#a50d2e" stroke-width="0.9" />
<line x1="444.88" y1="79.60" x2="444.88" y2="83.26" stroke="#a50d2e" stroke-width="0.8" />
<line x1="442.88" y1="79.60" x2="446.88" y2="79.60" stroke="#a50d2e" stroke-width="0.9" />
<line x1="442.88" y1="83.26" x2="446.88" y2="83.26" stroke="#a50d2e" stroke-width="0.9" />
<line x1="454.77" y1="84.36" x2="454.77" y2="88.03" stroke="#a50d2e" stroke-width="0.8" />
<line x1="452.77" y1="84.36" x2="456.77" y2="84.36" stroke="#a50d2e" stroke-width="0.9" />
<line x1="452.77" y1="88.03" x2="456.77" y2="88.03" stroke="#a50d2e" stroke-width="0.9" />
<line x1="464.66" y1="80.70" x2="464.66" y2="84.36" stroke="#a50d2e" stroke-width="0.8" />
<line x1="462.66" y1="80.70" x2="466.66" y2="80.70" stroke="#a50d2e" stroke-width="0.9" />
<line x1="462.66" y1="84.36" x2="466.66" y2="84.36" stroke="#a50d2e" stroke-width="0.9" />
<line x1="474.55" y1="79.60" x2="474.55" y2="83.26" stroke="#a50d2e" stroke-width="0.8" />
<line x1="472.55" y1="79.60" x2="476.55" y2="79.60" stroke="#a50d2e" stroke-width="0.9" />
<line x1="472.55" y1="83.26" x2="476.55" y2="83.26" stroke="#a50d2e" stroke-width="0.9" />
<line x1="484.44" y1="78.86" x2="484.44" y2="83.63" stroke="#a50d2e" stroke-width="0.8" />
<line x1="482.44" y1="78.86" x2="486.44" y2="78.86" stroke="#a50d2e" stroke-width="0.9" />
<line x1="482.44" y1="83.63" x2="486.44" y2="83.63" stroke="#a50d2e" stroke-width="0.9" />
<line x1="494.33" y1="78.86" x2="494.33" y2="82.53" stroke="#a50d2e" stroke-width="0.8" />
<line x1="492.33" y1="78.86" x2="496.33" y2="78.86" stroke="#a50d2e" stroke-width="0.9" />
<line x1="492.33" y1="82.53" x2="496.33" y2="82.53" stroke="#a50d2e" stroke-width="0.9" />
<line x1="504.22" y1="89.86" x2="504.22" y2="93.53" stroke="#a50d2e" stroke-width="0.8" />
<line x1="502.22" y1="89.86" x2="506.22" y2="89.86" stroke="#a50d2e" stroke-width="0.9" />
<line x1="502.22" y1="93.53" x2="506.22" y2="93.53" stroke="#a50d2e" stroke-width="0.9" />
<path d="M425.10,83.26 L434.99,79.96 L444.88,81.43 L454.77,86.20 L464.66,82.53 L474.55,81.43 L484.44,81.43 L494.33,80.70 L504.22,91.70" fill="none" stroke="#a50d2e" stroke-width="1.0"/>
<line x1="425.10" y1="85.83" x2="425.10" y2="94.63" stroke="#6aad45" stroke-width="0.8" />
<line x1="423.10" y1="85.83" x2="427.10" y2="85.83" stroke="#6aad45" stroke-width="0.9" />
<line x1="423.10" y1="94.63" x2="427.10" y2="94.63" stroke="#6aad45" stroke-width="0.9" />
<line x1="434.99" y1="74.83" x2="434.99" y2="81.43" stroke="#6aad45" stroke-width="0.8" />
<line x1="432.99" y1="74.83" x2="436.99" y2="74.83" stroke="#6aad45" stroke-width="0.9" />
<line x1="432.99" y1="81.43" x2="436.99" y2="81.43" stroke="#6aad45" stroke-width="0.9" />
<line x1="444.88" y1="75.93" x2="444.88" y2="81.06" stroke="#6aad45" stroke-width="0.8" />
<line x1="442.88" y1="75.93" x2="446.88" y2="75.93" stroke="#6aad45" stroke-width="0.9" />
<line x1="442.88" y1="81.06" x2="446.88" y2="81.06" stroke="#6aad45" stroke-width="0.9" />
<line x1="454.77" y1="80.70" x2="454.77" y2="85.10" stroke="#6aad45" stroke-width="0.8" />
<line x1="452.77" y1="80.70" x2="456.77" y2="80.70" stroke="#6aad45" stroke-width="0.9" />
<line x1="452.77" y1="85.10" x2="456.77" y2="85.10" stroke="#6aad45" stroke-width="0.9" />
<line x1="464.66" y1="67.86" x2="464.66" y2="79.60" stroke="#6aad45" stroke-width="0.8" />
<line x1="462.66" y1="67.86" x2="466.66" y2="67.86" stroke="#6aad45" stroke-width="0.9" />
<line x1="462.66" y1="79.60" x2="466.66" y2="79.60" stroke="#6aad45" stroke-width="0.9" />
<line x1="474.55" y1="75.93" x2="474.55" y2="83.63" stroke="#6aad45" stroke-width="0.8" />
<line x1="472.55" y1="75.93" x2="476.55" y2="75.93" stroke="#6aad45" stroke-width="0.9" />
<line x1="472.55" y1="83.63" x2="476.55" y2="83.63" stroke="#6aad45" stroke-width="0.9" />
<line x1="484.44" y1="82.16" x2="484.44" y2="89.86" stroke="#6aad45" stroke-width="0.8" />
<line x1="482.44" y1="82.16" x2="486.44" y2="82.16" stroke="#6aad45" stroke-width="0.9" />
<line x1="482.44" y1="89.86" x2="486.44" y2="89.86" stroke="#6aad45" stroke-width="0.9" />
<line x1="494.33" y1="82.16" x2="494.33" y2="88.76" stroke="#6aad45" stroke-width="0.8" />
<line x1="492.33" y1="82.16" x2="496.33" y2="82.16" stroke="#6aad45" stroke-width="0.9" />
<line x1="492.33" y1="88.76" x2="496.33" y2="88.76" stroke="#6aad45" stroke-width="0.9" />
<line x1="504.22" y1="81.43" x2="504.22" y2="88.76" stroke="#6aad45" stroke-width="0.8" />
<line x1="502.22" y1="81.43" x2="506.22" y2="81.43" stroke="#6aad45" stroke-width="0.9" />
<line x1="502.22" y1="88.76" x2="506.22" y2="88.76" stroke="#6aad45" stroke-width="0.9" />
<path d="M425.10,90.60 L434.99,78.86 L444.88,78.86 L454.77,83.26 L464.66,74.10 L474.55,80.70 L484.44,87.66 L494.33,86.20 L504.22,86.20" fill="none" stroke="#6aad45" stroke-width="1.0"/>
<circle cx="425.10" cy="80.70" r="2.6" fill="none" stroke="#cf6a66" stroke-width="0.8"/>
<circle cx="434.99" cy="79.96" r="2.6" fill="none" stroke="#cf6a66" stroke-width="0.8"/>
<circle cx="444.88" cy="80.70" r="2.6" fill="none" stroke="#cf6a66" stroke-width="0.8"/>
<circle cx="454.77" cy="80.70" r="2.6" fill="none" stroke="#cf6a66" stroke-width="0.8"/>
<circle cx="464.66" cy="81.43" r="2.6" fill="none" stroke="#cf6a66" stroke-width="0.8"/>
<circle cx="474.55" cy="80.70" r="2.6" fill="none" stroke="#cf6a66" stroke-width="0.8"/>
<circle cx="484.44" cy="80.70" r="2.6" fill="none" stroke="#cf6a66" stroke-width="0.8"/>
<circle cx="494.33" cy="81.43" r="2.6" fill="none" stroke="#cf6a66" stroke-width="0.8"/>
<circle cx="504.22" cy="85.10" r="2.6" fill="none" stroke="#cf6a66" stroke-width="0.8"/>
<circle cx="425.10" cy="83.26" r="2.3" fill="#a50d2e"/>
<circle cx="434.99" cy="79.96" r="2.3" fill="#a50d2e"/>
<circle cx="444.88" cy="81.43" r="2.3" fill="#a50d2e"/>
<circle cx="454.77" cy="86.20" r="2.3" fill="#a50d2e"/>
<circle cx="464.66" cy="82.53" r="2.3" fill="#a50d2e"/>
<circle cx="474.55" cy="81.43" r="2.3" fill="#a50d2e"/>
<circle cx="484.44" cy="81.43" r="2.3" fill="#a50d2e"/>
<circle cx="494.33" cy="80.70" r="2.3" fill="#a50d2e"/>
<circle cx="504.22" cy="91.70" r="2.3" fill="#a50d2e"/>
<path d="M425.10,87.65 L428.10,92.40 L422.10,92.40 Z" fill="none" stroke="#6aad45" stroke-width="0.8" stroke-linejoin="round"/>
<path d="M434.99,75.92 L437.99,80.67 L431.99,80.67 Z" fill="none" stroke="#6aad45" stroke-width="0.8" stroke-linejoin="round"/>
<path d="M444.88,75.92 L447.88,80.67 L441.88,80.67 Z" fill="none" stroke="#6aad45" stroke-width="0.8" stroke-linejoin="round"/>
<path d="M454.77,80.32 L457.77,85.07 L451.77,85.07 Z" fill="none" stroke="#6aad45" stroke-width="0.8" stroke-linejoin="round"/>
<path d="M464.66,71.15 L467.66,75.90 L461.66,75.90 Z" fill="none" stroke="#6aad45" stroke-width="0.8" stroke-linejoin="round"/>
<path d="M474.55,77.75 L477.55,82.50 L471.55,82.50 Z" fill="none" stroke="#6aad45" stroke-width="0.8" stroke-linejoin="round"/>
<path d="M484.44,84.72 L487.44,89.47 L481.44,89.47 Z" fill="none" stroke="#6aad45" stroke-width="0.8" stroke-linejoin="round"/>
<path d="M494.33,83.25 L497.33,88.00 L491.33,88.00 Z" fill="none" stroke="#6aad45" stroke-width="0.8" stroke-linejoin="round"/>
<path d="M504.22,83.25 L507.22,88.00 L501.22,88.00 Z" fill="none" stroke="#6aad45" stroke-width="0.8" stroke-linejoin="round"/>
<line x1="420.20" y1="67.20" x2="420.20" y2="125.20" stroke="#111" stroke-width="1.1" />
<line x1="417.20" y1="124.70" x2="509.72" y2="124.70" stroke="#111" stroke-width="1.1" />
<line x1="417.20" y1="124.70" x2="420.20" y2="124.70" stroke="#111" stroke-width="1" />
<text x="414.00" y="126.90" font-size="6.4" fill="#333" text-anchor="end" >0</text>
<line x1="417.20" y1="106.37" x2="420.20" y2="106.37" stroke="#111" stroke-width="1" />
<text x="414.00" y="108.57" font-size="6.4" fill="#333" text-anchor="end" >5</text>
<line x1="417.20" y1="88.03" x2="420.20" y2="88.03" stroke="#111" stroke-width="1" />
<text x="414.00" y="90.23" font-size="6.4" fill="#333" text-anchor="end" >10</text>
<line x1="417.20" y1="69.70" x2="420.20" y2="69.70" stroke="#111" stroke-width="1" />
<text x="414.00" y="71.90" font-size="6.4" fill="#333" text-anchor="end" >15</text>
<line x1="425.10" y1="124.70" x2="425.10" y2="127.70" stroke="#111" stroke-width="1" />
<text x="425.10" y="136.90" font-size="6.4" fill="#333" text-anchor="middle" >3</text>
<line x1="434.99" y1="124.70" x2="434.99" y2="127.70" stroke="#111" stroke-width="1" />
<text x="434.99" y="136.90" font-size="6.4" fill="#333" text-anchor="middle" >7</text>
<line x1="444.88" y1="124.70" x2="444.88" y2="127.70" stroke="#111" stroke-width="1" />
<text x="444.88" y="136.90" font-size="6.4" fill="#333" text-anchor="middle" >11</text>
<line x1="454.77" y1="124.70" x2="454.77" y2="127.70" stroke="#111" stroke-width="1" />
<text x="454.77" y="136.90" font-size="6.4" fill="#333" text-anchor="middle" >15</text>
<line x1="464.66" y1="124.70" x2="464.66" y2="127.70" stroke="#111" stroke-width="1" />
<text x="464.66" y="136.90" font-size="6.4" fill="#333" text-anchor="middle" >20</text>
<line x1="474.55" y1="124.70" x2="474.55" y2="127.70" stroke="#111" stroke-width="1" />
<text x="474.55" y="136.90" font-size="6.4" fill="#333" text-anchor="middle" >27</text>
<line x1="484.44" y1="124.70" x2="484.44" y2="127.70" stroke="#111" stroke-width="1" />
<text x="484.44" y="136.90" font-size="6.4" fill="#333" text-anchor="middle" >33</text>
<line x1="494.33" y1="124.70" x2="494.33" y2="127.70" stroke="#111" stroke-width="1" />
<text x="494.33" y="136.90" font-size="6.4" fill="#333" text-anchor="middle" >39</text>
<line x1="504.22" y1="124.70" x2="504.22" y2="127.70" stroke="#111" stroke-width="1" />
<text x="504.22" y="136.90" font-size="6.4" fill="#333" text-anchor="middle" >46</text>
<text x="464.36" y="148.80" font-size="9.0" fill="#333" text-anchor="middle" textLength="47.30" lengthAdjust="spacingAndGlyphs" stroke="#333" stroke-width="0.4">Weeks post-HSCT</text>
<text x="0" y="0" font-size="9.0" font-weight="normal" fill="#333" stroke="#333" stroke-width="0.4" text-anchor="middle" textLength="47.40" lengthAdjust="spacingAndGlyphs" transform="translate(401.30 96.20) rotate(-90)">Hemoglobin (g/dl)</text>
<text x="425.20" y="78.00" font-size="5.6" fill="#333" text-anchor="middle" textLength="5.25" lengthAdjust="spacingAndGlyphs" >***</text>
<line x1="85.60" y1="188.00" x2="94.40" y2="188.00" stroke="#a50d2e" stroke-width="1" />
<circle cx="90.00" cy="188.00" r="2.2" fill="#a50d2e"/>
<text x="97.40" y="190.70" font-size="6.4" fill="#333" textLength="77.60" lengthAdjust="spacingAndGlyphs" >ADC (2bF8LV/Sca-1) (n=6)</text>
<line x1="85.60" y1="197.00" x2="94.40" y2="197.00" stroke="#cf6a66" stroke-width="1" />
<circle cx="90.00" cy="197.00" r="2.2" fill="none" stroke="#cf6a66" stroke-width="0.9"/>
<text x="97.40" y="199.70" font-size="6.4" fill="#333" textLength="73.85" lengthAdjust="spacingAndGlyphs" >ADC (2bF8LV/Sca-1) plus</text>
<text x="97.40" y="207.70" font-size="6.4" fill="#333" textLength="56.85" lengthAdjust="spacingAndGlyphs" >depleted cells (n=4)</text>
<line x1="85.60" y1="213.20" x2="94.40" y2="213.20" stroke="#6aad45" stroke-width="1" />
<path d="M90.00,210.73 L92.52,214.72 L87.48,214.72 Z" fill="none" stroke="#6aad45" stroke-width="0.9" stroke-linejoin="round"/>
<text x="97.40" y="215.90" font-size="6.4" fill="#333" textLength="94.35" lengthAdjust="spacingAndGlyphs" >6.6 Gy TBI (2bF8LV/Sca-1) (n=6)</text>
<line x1="108.50" y1="283.64" x2="108.50" y2="284.81" stroke="#cf6a66" stroke-width="0.8" />
<line x1="106.50" y1="283.64" x2="110.50" y2="283.64" stroke="#cf6a66" stroke-width="0.9" />
<line x1="106.50" y1="284.81" x2="110.50" y2="284.81" stroke="#cf6a66" stroke-width="0.9" />
<line x1="118.39" y1="276.00" x2="118.39" y2="278.35" stroke="#cf6a66" stroke-width="0.8" />
<line x1="116.39" y1="276.00" x2="120.39" y2="276.00" stroke="#cf6a66" stroke-width="0.9" />
<line x1="116.39" y1="278.35" x2="120.39" y2="278.35" stroke="#cf6a66" stroke-width="0.9" />
<line x1="128.28" y1="267.77" x2="128.28" y2="278.94" stroke="#cf6a66" stroke-width="0.8" />
<line x1="126.28" y1="267.77" x2="130.28" y2="267.77" stroke="#cf6a66" stroke-width="0.9" />
<line x1="126.28" y1="278.94" x2="130.28" y2="278.94" stroke="#cf6a66" stroke-width="0.9" />
<line x1="138.17" y1="261.90" x2="138.17" y2="277.17" stroke="#cf6a66" stroke-width="0.8" />
<line x1="136.17" y1="261.90" x2="140.17" y2="261.90" stroke="#cf6a66" stroke-width="0.9" />
<line x1="136.17" y1="277.17" x2="140.17" y2="277.17" stroke="#cf6a66" stroke-width="0.9" />
<line x1="148.06" y1="254.85" x2="148.06" y2="274.82" stroke="#cf6a66" stroke-width="0.8" />
<line x1="146.06" y1="254.85" x2="150.06" y2="254.85" stroke="#cf6a66" stroke-width="0.9" />
<line x1="146.06" y1="274.82" x2="150.06" y2="274.82" stroke="#cf6a66" stroke-width="0.9" />
<line x1="157.95" y1="245.45" x2="157.95" y2="271.30" stroke="#cf6a66" stroke-width="0.8" />
<line x1="155.95" y1="245.45" x2="159.95" y2="245.45" stroke="#cf6a66" stroke-width="0.9" />
<line x1="155.95" y1="271.30" x2="159.95" y2="271.30" stroke="#cf6a66" stroke-width="0.9" />
<line x1="167.84" y1="245.45" x2="167.84" y2="268.95" stroke="#cf6a66" stroke-width="0.8" />
<line x1="165.84" y1="245.45" x2="169.84" y2="245.45" stroke="#cf6a66" stroke-width="0.9" />
<line x1="165.84" y1="268.95" x2="169.84" y2="268.95" stroke="#cf6a66" stroke-width="0.9" />
<line x1="177.73" y1="244.27" x2="177.73" y2="272.47" stroke="#cf6a66" stroke-width="0.8" />
<line x1="175.73" y1="244.27" x2="179.73" y2="244.27" stroke="#cf6a66" stroke-width="0.9" />
<line x1="175.73" y1="272.47" x2="179.73" y2="272.47" stroke="#cf6a66" stroke-width="0.9" />
<line x1="187.62" y1="235.46" x2="187.62" y2="271.30" stroke="#cf6a66" stroke-width="0.8" />
<line x1="185.62" y1="235.46" x2="189.62" y2="235.46" stroke="#cf6a66" stroke-width="0.9" />
<line x1="185.62" y1="271.30" x2="189.62" y2="271.30" stroke="#cf6a66" stroke-width="0.9" />
<path d="M108.50,284.22 L118.39,277.17 L128.28,272.47 L138.17,268.95 L148.06,264.84 L157.95,258.96 L167.84,257.20 L177.73,258.38 L187.62,251.32" fill="none" stroke="#cf6a66" stroke-width="1.0"/>
<line x1="108.50" y1="283.64" x2="108.50" y2="284.81" stroke="#a50d2e" stroke-width="0.8" />
<line x1="106.50" y1="283.64" x2="110.50" y2="283.64" stroke="#a50d2e" stroke-width="0.9" />
<line x1="106.50" y1="284.81" x2="110.50" y2="284.81" stroke="#a50d2e" stroke-width="0.9" />
<line x1="118.39" y1="264.84" x2="118.39" y2="284.22" stroke="#a50d2e" stroke-width="0.8" />
<line x1="116.39" y1="264.84" x2="120.39" y2="264.84" stroke="#a50d2e" stroke-width="0.9" />
<line x1="116.39" y1="284.22" x2="120.39" y2="284.22" stroke="#a50d2e" stroke-width="0.9" />
<line x1="128.28" y1="254.26" x2="128.28" y2="279.52" stroke="#a50d2e" stroke-width="0.8" />
<line x1="126.28" y1="254.26" x2="130.28" y2="254.26" stroke="#a50d2e" stroke-width="0.9" />
<line x1="126.28" y1="279.52" x2="130.28" y2="279.52" stroke="#a50d2e" stroke-width="0.9" />
<line x1="138.17" y1="250.15" x2="138.17" y2="278.35" stroke="#a50d2e" stroke-width="0.8" />
<line x1="136.17" y1="250.15" x2="140.17" y2="250.15" stroke="#a50d2e" stroke-width="0.9" />
<line x1="136.17" y1="278.35" x2="140.17" y2="278.35" stroke="#a50d2e" stroke-width="0.9" />
<line x1="148.06" y1="245.45" x2="148.06" y2="274.82" stroke="#a50d2e" stroke-width="0.8" />
<line x1="146.06" y1="245.45" x2="150.06" y2="245.45" stroke="#a50d2e" stroke-width="0.9" />
<line x1="146.06" y1="274.82" x2="150.06" y2="274.82" stroke="#a50d2e" stroke-width="0.9" />
<line x1="157.95" y1="240.16" x2="157.95" y2="270.71" stroke="#a50d2e" stroke-width="0.8" />
<line x1="155.95" y1="240.16" x2="159.95" y2="240.16" stroke="#a50d2e" stroke-width="0.9" />
<line x1="155.95" y1="270.71" x2="159.95" y2="270.71" stroke="#a50d2e" stroke-width="0.9" />
<line x1="167.84" y1="238.40" x2="167.84" y2="267.77" stroke="#a50d2e" stroke-width="0.8" />
<line x1="165.84" y1="238.40" x2="169.84" y2="238.40" stroke="#a50d2e" stroke-width="0.9" />
<line x1="165.84" y1="267.77" x2="169.84" y2="267.77" stroke="#a50d2e" stroke-width="0.9" />
<line x1="177.73" y1="238.40" x2="177.73" y2="268.95" stroke="#a50d2e" stroke-width="0.8" />
<line x1="175.73" y1="238.40" x2="179.73" y2="238.40" stroke="#a50d2e" stroke-width="0.9" />
<line x1="175.73" y1="268.95" x2="179.73" y2="268.95" stroke="#a50d2e" stroke-width="0.9" />
<line x1="187.62" y1="235.46" x2="187.62" y2="270.71" stroke="#a50d2e" stroke-width="0.8" />
<line x1="185.62" y1="235.46" x2="189.62" y2="235.46" stroke="#a50d2e" stroke-width="0.9" />
<line x1="185.62" y1="270.71" x2="189.62" y2="270.71" stroke="#a50d2e" stroke-width="0.9" />
<path d="M108.50,284.22 L118.39,276.59 L128.28,269.54 L138.17,266.01 L148.06,261.31 L157.95,255.44 L167.84,251.91 L177.73,252.50 L187.62,251.32" fill="none" stroke="#a50d2e" stroke-width="1.0"/>
<line x1="108.50" y1="238.40" x2="108.50" y2="244.27" stroke="#6aad45" stroke-width="0.8" />
<line x1="106.50" y1="238.40" x2="110.50" y2="238.40" stroke="#6aad45" stroke-width="0.9" />
<line x1="106.50" y1="244.27" x2="110.50" y2="244.27" stroke="#6aad45" stroke-width="0.9" />
<line x1="118.39" y1="237.81" x2="118.39" y2="243.69" stroke="#6aad45" stroke-width="0.8" />
<line x1="116.39" y1="237.81" x2="120.39" y2="237.81" stroke="#6aad45" stroke-width="0.9" />
<line x1="116.39" y1="243.69" x2="120.39" y2="243.69" stroke="#6aad45" stroke-width="0.9" />
<line x1="128.28" y1="238.40" x2="128.28" y2="244.27" stroke="#6aad45" stroke-width="0.8" />
<line x1="126.28" y1="238.40" x2="130.28" y2="238.40" stroke="#6aad45" stroke-width="0.9" />
<line x1="126.28" y1="244.27" x2="130.28" y2="244.27" stroke="#6aad45" stroke-width="0.9" />
<line x1="138.17" y1="239.57" x2="138.17" y2="244.27" stroke="#6aad45" stroke-width="0.8" />
<line x1="136.17" y1="239.57" x2="140.17" y2="239.57" stroke="#6aad45" stroke-width="0.9" />
<line x1="136.17" y1="244.27" x2="140.17" y2="244.27" stroke="#6aad45" stroke-width="0.9" />
<line x1="148.06" y1="240.75" x2="148.06" y2="246.62" stroke="#6aad45" stroke-width="0.8" />
<line x1="146.06" y1="240.75" x2="150.06" y2="240.75" stroke="#6aad45" stroke-width="0.9" />
<line x1="146.06" y1="246.62" x2="150.06" y2="246.62" stroke="#6aad45" stroke-width="0.9" />
<line x1="157.95" y1="243.10" x2="157.95" y2="248.97" stroke="#6aad45" stroke-width="0.8" />
<line x1="155.95" y1="243.10" x2="159.95" y2="243.10" stroke="#6aad45" stroke-width="0.9" />
<line x1="155.95" y1="248.97" x2="159.95" y2="248.97" stroke="#6aad45" stroke-width="0.9" />
<line x1="167.84" y1="243.69" x2="167.84" y2="249.56" stroke="#6aad45" stroke-width="0.8" />
<line x1="165.84" y1="243.69" x2="169.84" y2="243.69" stroke="#6aad45" stroke-width="0.9" />
<line x1="165.84" y1="249.56" x2="169.84" y2="249.56" stroke="#6aad45" stroke-width="0.9" />
<line x1="177.73" y1="244.86" x2="177.73" y2="250.74" stroke="#6aad45" stroke-width="0.8" />
<line x1="175.73" y1="244.86" x2="179.73" y2="244.86" stroke="#6aad45" stroke-width="0.9" />
<line x1="175.73" y1="250.74" x2="179.73" y2="250.74" stroke="#6aad45" stroke-width="0.9" />
<line x1="187.62" y1="246.62" x2="187.62" y2="251.32" stroke="#6aad45" stroke-width="0.8" />
<line x1="185.62" y1="246.62" x2="189.62" y2="246.62" stroke="#6aad45" stroke-width="0.9" />
<line x1="185.62" y1="251.32" x2="189.62" y2="251.32" stroke="#6aad45" stroke-width="0.9" />
<path d="M108.50,241.34 L118.39,240.75 L128.28,241.34 L138.17,241.92 L148.06,243.69 L157.95,246.04 L167.84,246.62 L177.73,247.80 L187.62,248.97" fill="none" stroke="#6aad45" stroke-width="1.0"/>
<circle cx="108.50" cy="284.22" r="2.6" fill="none" stroke="#cf6a66" stroke-width="0.8"/>
<circle cx="118.39" cy="277.17" r="2.6" fill="none" stroke="#cf6a66" stroke-width="0.8"/>
<circle cx="128.28" cy="272.47" r="2.6" fill="none" stroke="#cf6a66" stroke-width="0.8"/>
<circle cx="138.17" cy="268.95" r="2.6" fill="none" stroke="#cf6a66" stroke-width="0.8"/>
<circle cx="148.06" cy="264.84" r="2.6" fill="none" stroke="#cf6a66" stroke-width="0.8"/>
<circle cx="157.95" cy="258.96" r="2.6" fill="none" stroke="#cf6a66" stroke-width="0.8"/>
<circle cx="167.84" cy="257.20" r="2.6" fill="none" stroke="#cf6a66" stroke-width="0.8"/>
<circle cx="177.73" cy="258.38" r="2.6" fill="none" stroke="#cf6a66" stroke-width="0.8"/>
<circle cx="187.62" cy="251.32" r="2.6" fill="none" stroke="#cf6a66" stroke-width="0.8"/>
<circle cx="108.50" cy="284.22" r="2.3" fill="#a50d2e"/>
<circle cx="118.39" cy="276.59" r="2.3" fill="#a50d2e"/>
<circle cx="128.28" cy="269.54" r="2.3" fill="#a50d2e"/>
<circle cx="138.17" cy="266.01" r="2.3" fill="#a50d2e"/>
<circle cx="148.06" cy="261.31" r="2.3" fill="#a50d2e"/>
<circle cx="157.95" cy="255.44" r="2.3" fill="#a50d2e"/>
<circle cx="167.84" cy="251.91" r="2.3" fill="#a50d2e"/>
<circle cx="177.73" cy="252.50" r="2.3" fill="#a50d2e"/>
<circle cx="187.62" cy="251.32" r="2.3" fill="#a50d2e"/>
<path d="M108.50,238.39 L111.50,243.14 L105.50,243.14 Z" fill="none" stroke="#6aad45" stroke-width="0.8" stroke-linejoin="round"/>
<path d="M118.39,237.80 L121.39,242.55 L115.39,242.55 Z" fill="none" stroke="#6aad45" stroke-width="0.8" stroke-linejoin="round"/>
<path d="M128.28,238.39 L131.28,243.14 L125.28,243.14 Z" fill="none" stroke="#6aad45" stroke-width="0.8" stroke-linejoin="round"/>
<path d="M138.17,238.98 L141.17,243.73 L135.17,243.73 Z" fill="none" stroke="#6aad45" stroke-width="0.8" stroke-linejoin="round"/>
<path d="M148.06,240.74 L151.06,245.49 L145.06,245.49 Z" fill="none" stroke="#6aad45" stroke-width="0.8" stroke-linejoin="round"/>
<path d="M157.95,243.09 L160.95,247.84 L154.95,247.84 Z" fill="none" stroke="#6aad45" stroke-width="0.8" stroke-linejoin="round"/>
<path d="M167.84,243.68 L170.84,248.43 L164.84,248.43 Z" fill="none" stroke="#6aad45" stroke-width="0.8" stroke-linejoin="round"/>
<path d="M177.73,244.85 L180.73,249.60 L174.73,249.60 Z" fill="none" stroke="#6aad45" stroke-width="0.8" stroke-linejoin="round"/>
<path d="M187.62,246.03 L190.62,250.78 L184.62,250.78 Z" fill="none" stroke="#6aad45" stroke-width="0.8" stroke-linejoin="round"/>
<line x1="103.60" y1="224.30" x2="103.60" y2="285.90" stroke="#111" stroke-width="1.1" />
<line x1="100.60" y1="285.40" x2="193.12" y2="285.40" stroke="#111" stroke-width="1.1" />
<line x1="100.60" y1="285.40" x2="103.60" y2="285.40" stroke="#111" stroke-width="1" />
<text x="97.40" y="287.60" font-size="6.4" fill="#333" text-anchor="end" >0</text>
<line x1="100.60" y1="273.65" x2="103.60" y2="273.65" stroke="#111" stroke-width="1" />
<text x="97.40" y="275.85" font-size="6.4" fill="#333" text-anchor="end" >20</text>
<line x1="100.60" y1="261.90" x2="103.60" y2="261.90" stroke="#111" stroke-width="1" />
<text x="97.40" y="264.10" font-size="6.4" fill="#333" text-anchor="end" >40</text>
<line x1="100.60" y1="250.15" x2="103.60" y2="250.15" stroke="#111" stroke-width="1" />
<text x="97.40" y="252.35" font-size="6.4" fill="#333" text-anchor="end" >60</text>
<line x1="100.60" y1="238.40" x2="103.60" y2="238.40" stroke="#111" stroke-width="1" />
<text x="97.40" y="240.60" font-size="6.4" fill="#333" text-anchor="end" >80</text>
<line x1="100.60" y1="226.65" x2="103.60" y2="226.65" stroke="#111" stroke-width="1" />
<text x="97.40" y="228.85" font-size="6.4" fill="#333" text-anchor="end" >100</text>
<line x1="108.50" y1="285.40" x2="108.50" y2="288.40" stroke="#111" stroke-width="1" />
<text x="108.50" y="297.60" font-size="6.4" fill="#333" text-anchor="middle" >3</text>
<line x1="118.39" y1="285.40" x2="118.39" y2="288.40" stroke="#111" stroke-width="1" />
<text x="118.39" y="297.60" font-size="6.4" fill="#333" text-anchor="middle" >7</text>
<line x1="128.28" y1="285.40" x2="128.28" y2="288.40" stroke="#111" stroke-width="1" />
<text x="128.28" y="297.60" font-size="6.4" fill="#333" text-anchor="middle" >11</text>
<line x1="138.17" y1="285.40" x2="138.17" y2="288.40" stroke="#111" stroke-width="1" />
<text x="138.17" y="297.60" font-size="6.4" fill="#333" text-anchor="middle" >15</text>
<line x1="148.06" y1="285.40" x2="148.06" y2="288.40" stroke="#111" stroke-width="1" />
<text x="148.06" y="297.60" font-size="6.4" fill="#333" text-anchor="middle" >20</text>
<line x1="157.95" y1="285.40" x2="157.95" y2="288.40" stroke="#111" stroke-width="1" />
<text x="157.95" y="297.60" font-size="6.4" fill="#333" text-anchor="middle" >27</text>
<line x1="167.84" y1="285.40" x2="167.84" y2="288.40" stroke="#111" stroke-width="1" />
<text x="167.84" y="297.60" font-size="6.4" fill="#333" text-anchor="middle" >33</text>
<line x1="177.73" y1="285.40" x2="177.73" y2="288.40" stroke="#111" stroke-width="1" />
<text x="177.73" y="297.60" font-size="6.4" fill="#333" text-anchor="middle" >39</text>
<line x1="187.62" y1="285.40" x2="187.62" y2="288.40" stroke="#111" stroke-width="1" />
<text x="187.62" y="297.60" font-size="6.4" fill="#333" text-anchor="middle" >46</text>
<text x="147.76" y="309.50" font-size="9.0" fill="#333" text-anchor="middle" textLength="47.30" lengthAdjust="spacingAndGlyphs" stroke="#333" stroke-width="0.4">Weeks post-HSCT</text>
<text x="0" y="0" font-size="9.0" font-weight="normal" fill="#333" stroke="#333" stroke-width="0.4" text-anchor="middle" textLength="58.00" lengthAdjust="spacingAndGlyphs" transform="translate(70.00 257.00) rotate(-90)">Leukocyte chimerism (%)</text>
<text x="109.20" y="281.80" font-size="5.6" fill="#333" text-anchor="middle" textLength="7.00" lengthAdjust="spacingAndGlyphs" >****</text>
<text x="118.60" y="264.60" font-size="5.6" fill="#333" text-anchor="middle" textLength="7.00" lengthAdjust="spacingAndGlyphs" >****</text>
<text x="128.40" y="255.60" font-size="5.6" fill="#333" text-anchor="middle" textLength="3.50" lengthAdjust="spacingAndGlyphs" >**</text>
<text x="138.30" y="252.20" font-size="5.6" fill="#333" text-anchor="middle" textLength="1.75" lengthAdjust="spacingAndGlyphs" >*</text>
<text x="118.60" y="287.00" font-size="5.6" fill="#333" text-anchor="middle" textLength="7.00" lengthAdjust="spacingAndGlyphs" >****</text>
<text x="128.40" y="284.80" font-size="5.6" fill="#333" text-anchor="middle" textLength="5.25" lengthAdjust="spacingAndGlyphs" >***</text>
<text x="138.30" y="284.40" font-size="5.6" fill="#333" text-anchor="middle" textLength="1.75" lengthAdjust="spacingAndGlyphs" >*</text>
<text x="0" y="0" font-size="9.0" font-weight="normal" fill="#333" stroke="#333" stroke-width="0.4" text-anchor="middle" textLength="48.60" lengthAdjust="spacingAndGlyphs" transform="translate(80.00 253.30) rotate(-90)">(donor-derived cells)</text>
<rect x="266.0" y="227.0" width="13.9" height="58.20" fill="#a50d2e"/>
<text x="272.95" y="282.50" font-size="4.6" fill="#fff" text-anchor="middle" >n=6</text>
<rect x="288.1" y="227.0" width="13.9" height="58.20" fill="#bd6259"/>
<text x="295.05" y="282.50" font-size="4.6" fill="#fff" text-anchor="middle" >n=4</text>
<rect x="310.8" y="227.0" width="13.9" height="58.20" fill="#68a942"/>
<text x="317.75" y="282.50" font-size="4.6" fill="#fff" text-anchor="middle" >n=6</text>
<line x1="261.60" y1="224.30" x2="261.60" y2="285.70" stroke="#111" stroke-width="1.1" />
<line x1="258.60" y1="285.20" x2="328.80" y2="285.20" stroke="#111" stroke-width="1.1" />
<line x1="258.60" y1="285.20" x2="261.60" y2="285.20" stroke="#111" stroke-width="1" />
<text x="255.40" y="287.40" font-size="6.4" fill="#333" text-anchor="end" >0</text>
<line x1="258.60" y1="273.45" x2="261.60" y2="273.45" stroke="#111" stroke-width="1" />
<text x="255.40" y="275.65" font-size="6.4" fill="#333" text-anchor="end" >20</text>
<line x1="258.60" y1="261.70" x2="261.60" y2="261.70" stroke="#111" stroke-width="1" />
<text x="255.40" y="263.90" font-size="6.4" fill="#333" text-anchor="end" >40</text>
<line x1="258.60" y1="249.95" x2="261.60" y2="249.95" stroke="#111" stroke-width="1" />
<text x="255.40" y="252.15" font-size="6.4" fill="#333" text-anchor="end" >60</text>
<line x1="258.60" y1="238.20" x2="261.60" y2="238.20" stroke="#111" stroke-width="1" />
<text x="255.40" y="240.40" font-size="6.4" fill="#333" text-anchor="end" >80</text>
<line x1="258.60" y1="226.45" x2="261.60" y2="226.45" stroke="#111" stroke-width="1" />
<text x="255.40" y="228.65" font-size="6.4" fill="#333" text-anchor="end" >100</text>
<line x1="272.95" y1="285.20" x2="272.95" y2="288.20" stroke="#111" stroke-width="1" />
<line x1="295.05" y1="285.20" x2="295.05" y2="288.20" stroke="#111" stroke-width="1" />
<line x1="317.75" y1="285.20" x2="317.75" y2="288.20" stroke="#111" stroke-width="1" />
<text x="0" y="0" font-size="6.4" fill="#333" text-anchor="end" transform="translate(275.15 292) rotate(-90)">2bF8LV/Sca-1</text>
<text x="0" y="0" font-size="6.4" fill="#333" text-anchor="end" transform="translate(287.75 292) rotate(-90)">2bF8LV/Sca-1</text>
<text x="0" y="0" font-size="6.4" fill="#333" text-anchor="end" transform="translate(297.25 292) rotate(-90)">plus depleted</text>
<text x="0" y="0" font-size="6.4" fill="#333" text-anchor="end" transform="translate(306.45 292) rotate(-90)">untrans. cells</text>
<text x="0" y="0" font-size="6.4" fill="#333" text-anchor="end" transform="translate(315.45 292) rotate(-90)">6.6 Gy TBI</text>
<text x="0" y="0" font-size="6.4" fill="#333" text-anchor="end" transform="translate(324.45 292) rotate(-90)">2bF8LV/Sca-1</text>
<line x1="268.80" y1="335.50" x2="308.20" y2="335.50" stroke="#111" stroke-width="0.9" />
<text x="288.50" y="344.50" font-size="6.6" fill="#333" text-anchor="middle" >ADC</text>
<text x="0" y="0" font-size="9.0" font-weight="normal" fill="#333" stroke="#333" stroke-width="0.4" text-anchor="middle" textLength="55.60" lengthAdjust="spacingAndGlyphs" transform="translate(218.20 251.00) rotate(-90)">% animals with &gt; 15%</text>
<text x="0" y="0" font-size="9.0" font-weight="normal" fill="#333" stroke="#333" stroke-width="0.4" text-anchor="middle" textLength="65.60" lengthAdjust="spacingAndGlyphs" transform="translate(228.60 253.40) rotate(-90)">donor-derived leukocytes</text>
<text x="0" y="0" font-size="9.0" font-weight="normal" fill="#333" stroke="#333" stroke-width="0.4" text-anchor="middle" textLength="58.00" lengthAdjust="spacingAndGlyphs" transform="translate(238.20 254.50) rotate(-90)">at 20 weeks post-BMT</text>
<rect x="401.75" y="261.70" width="14" height="23.50" fill="#bf5e5b"/>
<rect x="424.0" y="265.81" width="14" height="19.39" fill="#e3aea6"/>
<rect x="446.1" y="244.07" width="14" height="41.12" fill="#b5d59a"/>
<line x1="401.75" y1="261.70" x2="415.75" y2="261.70" stroke="#b04a4a" stroke-width="0.8"/>
<line x1="397.50" y1="224.30" x2="397.50" y2="285.70" stroke="#111" stroke-width="1.1" />
<line x1="394.50" y1="285.20" x2="464.70" y2="285.20" stroke="#111" stroke-width="1.1" />
<line x1="394.50" y1="285.20" x2="397.50" y2="285.20" stroke="#111" stroke-width="1" />
<text x="391.30" y="287.40" font-size="6.4" fill="#333" text-anchor="end" >0</text>
<line x1="394.50" y1="273.45" x2="397.50" y2="273.45" stroke="#111" stroke-width="1" />
<text x="391.30" y="275.65" font-size="6.4" fill="#333" text-anchor="end" >20</text>
<line x1="394.50" y1="261.70" x2="397.50" y2="261.70" stroke="#111" stroke-width="1" />
<text x="391.30" y="263.90" font-size="6.4" fill="#333" text-anchor="end" >40</text>
<line x1="394.50" y1="249.95" x2="397.50" y2="249.95" stroke="#111" stroke-width="1" />
<text x="391.30" y="252.15" font-size="6.4" fill="#333" text-anchor="end" >60</text>
<line x1="394.50" y1="238.20" x2="397.50" y2="238.20" stroke="#111" stroke-width="1" />
<text x="391.30" y="240.40" font-size="6.4" fill="#333" text-anchor="end" >80</text>
<line x1="394.50" y1="226.45" x2="397.50" y2="226.45" stroke="#111" stroke-width="1" />
<text x="391.30" y="228.65" font-size="6.4" fill="#333" text-anchor="end" >100</text>
<line x1="408.75" y1="285.20" x2="408.75" y2="288.20" stroke="#111" stroke-width="1" />
<line x1="431.00" y1="285.20" x2="431.00" y2="288.20" stroke="#111" stroke-width="1" />
<line x1="453.10" y1="285.20" x2="453.10" y2="288.20" stroke="#111" stroke-width="1" />
<text x="0" y="0" font-size="6.4" fill="#333" text-anchor="end" transform="translate(410.95 292) rotate(-90)">2bF8LV/Sca-1</text>
<text x="0" y="0" font-size="6.4" fill="#333" text-anchor="end" transform="translate(423.70 292) rotate(-90)">2bF8LV/Sca-1</text>
<text x="0" y="0" font-size="6.4" fill="#333" text-anchor="end" transform="translate(433.20 292) rotate(-90)">plus depleted</text>
<text x="0" y="0" font-size="6.4" fill="#333" text-anchor="end" transform="translate(442.40 292) rotate(-90)">untrans. cells</text>
<text x="0" y="0" font-size="6.4" fill="#333" text-anchor="end" transform="translate(450.80 292) rotate(-90)">6.6 Gy TBI</text>
<text x="0" y="0" font-size="6.4" fill="#333" text-anchor="end" transform="translate(459.80 292) rotate(-90)">2bF8LV/Sca-1</text>
<line x1="404.55" y1="335.50" x2="444.20" y2="335.50" stroke="#111" stroke-width="0.9" />
<text x="424.38" y="344.50" font-size="6.6" fill="#333" text-anchor="middle" >ADC</text>
<circle cx="408.50" cy="233.60" r="2.1" fill="#a50d2e"/>
<circle cx="408.30" cy="254.30" r="2.1" fill="#a50d2e"/>
<circle cx="408.20" cy="261.60" r="2.1" fill="#a50d2e"/>
<circle cx="408.00" cy="268.30" r="2.1" fill="#a50d2e"/>
<circle cx="411.20" cy="272.00" r="2.1" fill="#a50d2e"/>
<circle cx="405.80" cy="276.00" r="2.1" fill="#a50d2e"/>
<circle cx="431.30" cy="235.30" r="2.2" fill="none" stroke="#c9554f" stroke-width="0.9"/>
<circle cx="426.30" cy="273.80" r="2.2" fill="none" stroke="#c9554f" stroke-width="0.9"/>
<circle cx="430.80" cy="275.50" r="2.2" fill="none" stroke="#c9554f" stroke-width="0.9"/>
<circle cx="435.50" cy="275.00" r="2.2" fill="none" stroke="#c9554f" stroke-width="0.9"/>
<path d="M450.30,236.96 L452.58,240.57 L448.02,240.57 Z" fill="none" stroke="#55a23a" stroke-width="0.9" stroke-linejoin="round"/>
<path d="M447.50,242.36 L449.78,245.97 L445.22,245.97 Z" fill="none" stroke="#55a23a" stroke-width="0.9" stroke-linejoin="round"/>
<path d="M455.80,240.16 L458.08,243.77 L453.52,243.77 Z" fill="none" stroke="#55a23a" stroke-width="0.9" stroke-linejoin="round"/>
<path d="M458.30,242.36 L460.58,245.97 L456.02,245.97 Z" fill="none" stroke="#55a23a" stroke-width="0.9" stroke-linejoin="round"/>
<path d="M451.30,245.56 L453.58,249.17 L449.02,249.17 Z" fill="none" stroke="#55a23a" stroke-width="0.9" stroke-linejoin="round"/>
<path d="M454.50,244.56 L456.78,248.17 L452.22,248.17 Z" fill="none" stroke="#55a23a" stroke-width="0.9" stroke-linejoin="round"/>
<text x="0" y="0" font-size="9.0" font-weight="normal" fill="#333" stroke="#333" stroke-width="0.4" text-anchor="middle" textLength="44.00" lengthAdjust="spacingAndGlyphs" transform="translate(352.60 254.00) rotate(-90)">% donor-derived</text>
<text x="0" y="0" font-size="9.0" font-weight="normal" fill="#333" stroke="#333" stroke-width="0.4" text-anchor="middle" textLength="47.50" lengthAdjust="spacingAndGlyphs" transform="translate(363.40 254.70) rotate(-90)">leukocytes (at 20</text>
<text x="0" y="0" font-size="9.0" font-weight="normal" fill="#333" stroke="#333" stroke-width="0.4" text-anchor="middle" textLength="47.00" lengthAdjust="spacingAndGlyphs" transform="translate(374.40 254.50) rotate(-90)">weeks post-BMT)</text>
<text x="25.30" y="30.00" font-size="6.4" fill="#333" text-anchor="middle" textLength="24.50" lengthAdjust="spacingAndGlyphs" >CD45.1/</text>
<text x="15.60" y="37.60" font-size="6.4" fill="#333" textLength="12.20" lengthAdjust="spacingAndGlyphs" >FVIII</text>
<text x="27.40" y="34.60" font-size="5.0" fill="#333" textLength="7.60" lengthAdjust="spacingAndGlyphs" >null</text>
<g transform="translate(23.40 45.60) scale(1.0)">
<path d="M10.8,11.5 C14,11.5 15.6,9.5 15.2,6.5 C14.8,3.5 14.8,0 17.2,-2.3" fill="none" stroke="#444" stroke-width="0.7"/>
<path d="M0,0 C1,-0.8 2,-1.4 3.0,-1.6 L4.0,-4.4 L4.8,-1.5 C5.2,-1.4 5.4,-1.3 5.6,-1.2 L7.9,-2.7 L6.9,-0.2 C10.2,1.5 12.9,5 12.9,9 C12.9,10.8 12.2,11.5 11.0,11.6 L2.5,11.9 L2.8,10.8 L5.0,10.6 C4.2,9 3.8,7 4.2,5.2 L2.2,5.7 L3.8,3.8 C2.5,3 1.2,1.5 0,0 Z" fill="#141414"/>
<path d="M6.8,7.5 C6.2,9 6.8,10 8,10.5" fill="none" stroke="#666" stroke-width="0.5"/>
</g>
<circle cx="14.6" cy="69.0" r="2.55" fill="#8a8681" stroke="#45679f" stroke-width="0.65"/>
<circle cx="22.4" cy="69.0" r="2.55" fill="#8a8681" stroke="#45679f" stroke-width="0.65"/>
<circle cx="29.7" cy="69.7" r="2.55" fill="#8a8681" stroke="#45679f" stroke-width="0.65"/>
<circle cx="13.5" cy="75.3" r="2.55" fill="#8a8681" stroke="#45679f" stroke-width="0.65"/>
<circle cx="30.8" cy="77.1" r="2.55" fill="#8a8681" stroke="#45679f" stroke-width="0.65"/>
<circle cx="17.2" cy="80.0" r="2.55" fill="#8a8681" stroke="#45679f" stroke-width="0.65"/>
<circle cx="25.0" cy="80.8" r="2.55" fill="#8a8681" stroke="#45679f" stroke-width="0.65"/>
<circle cx="23.1" cy="77.5" r="2.55" fill="#8a8681" stroke="#45679f" stroke-width="0.65"/>
<circle cx="18.3" cy="74.2" r="2.55" fill="#8a8681" stroke="#45679f" stroke-width="0.65"/>
<circle cx="25.7" cy="74.2" r="2.55" fill="#8a8681" stroke="#45679f" stroke-width="0.65"/>
<circle cx="21.6" cy="75.3" r="2.55" fill="#8a8681" stroke="#45679f" stroke-width="0.65"/>
<path d="M23.9,52.6 C21,54.2 19.3,57.2 18.9,61.3 L16.6,61.2 L19.5,64.9 L22.5,61.5 L21.3,61.4 C21.3,58 22.2,55 23.9,52.6 Z" fill="#111"/>
<path d="M42.4,54 C44.6,55.5 47.6,58 49.0,62.5 L47.6,67.2 L45.2,62.8 C44.9,59.5 44,56.5 42.4,54 Z" fill="#111"/>
<path d="M62.3,53.6 C59.4,55.5 57.0,58.5 56.2,62.5 L57.7,67.2 L59.9,62.8 C60.1,59.5 61,56.5 62.3,53.6 Z" fill="#111"/>
<ellipse cx="51.6" cy="73.2" rx="16.3" ry="10.6" fill="#fff" stroke="#333" stroke-width="0.75"/>
<ellipse cx="51.8" cy="72.4" rx="14.7" ry="8.8" fill="none" stroke="#444" stroke-width="0.55"/>
<path d="M45.2,62 C45.5,63 45.9,64 47.6,67.2 L49.0,62.5 C48.9,62.3 48.8,62.1 48.7,62 Z" fill="#111"/>
<path d="M56.3,62 C56.25,62.2 56.2,62.4 56.2,62.5 L57.7,67.2 L59.9,62.8 C59.9,62.5 59.95,62.2 60.0,62 Z" fill="#111"/>
<circle cx="52.0" cy="68.8" r="2.35" fill="#511777" stroke="#6f79b8" stroke-width="0.55"/>
<circle cx="48.2" cy="71.8" r="2.35" fill="#511777" stroke="#6f79b8" stroke-width="0.55"/>
<circle cx="57.5" cy="71.8" r="2.35" fill="#511777" stroke="#6f79b8" stroke-width="0.55"/>
<circle cx="52.2" cy="74.3" r="2.35" fill="#511777" stroke="#6f79b8" stroke-width="0.55"/>
<circle cx="45.5" cy="75.8" r="2.35" fill="#511777" stroke="#6f79b8" stroke-width="0.55"/>
<circle cx="59.5" cy="76.4" r="2.35" fill="#511777" stroke="#6f79b8" stroke-width="0.55"/>
<circle cx="49.3" cy="79.0" r="2.35" fill="#511777" stroke="#6f79b8" stroke-width="0.55"/>
<circle cx="55.0" cy="79.3" r="2.35" fill="#511777" stroke="#6f79b8" stroke-width="0.55"/>
<circle cx="64.1" cy="48.1" r="1.85" fill="#0a0e18"/>
<circle cx="63.89999999999999" cy="47.9" r="0.55" fill="#3560a8"/>
<circle cx="62.3" cy="51.5" r="1.85" fill="#0a0e18"/>
<circle cx="62.099999999999994" cy="51.3" r="0.55" fill="#3560a8"/>
<circle cx="68.1" cy="48.7" r="1.85" fill="#0a0e18"/>
<circle cx="67.89999999999999" cy="48.5" r="0.55" fill="#3560a8"/>
<circle cx="71.0" cy="47.2" r="1.85" fill="#0a0e18"/>
<circle cx="70.8" cy="47.0" r="0.55" fill="#3560a8"/>
<circle cx="67.25" cy="50.7" r="1.85" fill="#0a0e18"/>
<circle cx="67.05" cy="50.5" r="0.55" fill="#3560a8"/>
<circle cx="70.1" cy="52.4" r="1.85" fill="#0a0e18"/>
<circle cx="69.89999999999999" cy="52.199999999999996" r="0.55" fill="#3560a8"/>
<circle cx="72.4" cy="50.1" r="1.85" fill="#0a0e18"/>
<circle cx="72.2" cy="49.9" r="0.55" fill="#3560a8"/>
<circle cx="75.3" cy="47.2" r="1.85" fill="#0a0e18"/>
<circle cx="75.1" cy="47.0" r="0.55" fill="#3560a8"/>
<circle cx="74.5" cy="49.8" r="1.85" fill="#0a0e18"/>
<circle cx="74.3" cy="49.599999999999994" r="0.55" fill="#3560a8"/>
<circle cx="78.8" cy="50.1" r="1.85" fill="#0a0e18"/>
<circle cx="78.6" cy="49.9" r="0.55" fill="#3560a8"/>
<circle cx="77.1" cy="52.1" r="1.85" fill="#0a0e18"/>
<circle cx="76.89999999999999" cy="51.9" r="0.55" fill="#3560a8"/>
<circle cx="69.3" cy="46.3" r="1.85" fill="#0a0e18"/>
<circle cx="69.1" cy="46.099999999999994" r="0.55" fill="#3560a8"/>
<circle cx="73.2" cy="53.0" r="1.85" fill="#0a0e18"/>
<circle cx="73.0" cy="52.8" r="0.55" fill="#3560a8"/>
<circle cx="66.0" cy="46.9" r="1.85" fill="#0a0e18"/>
<circle cx="65.8" cy="46.699999999999996" r="0.55" fill="#3560a8"/>
<circle cx="80.4" cy="51.6" r="1.85" fill="#0a0e18"/>
<circle cx="80.2" cy="51.4" r="0.55" fill="#3560a8"/>
<circle cx="65.2" cy="50.0" r="1.85" fill="#0a0e18"/>
<circle cx="65.0" cy="49.8" r="0.55" fill="#3560a8"/>
<text x="72.50" y="41.30" font-size="6.4" fill="#333" text-anchor="middle" textLength="24.30" lengthAdjust="spacingAndGlyphs" >2bF8 LV</text>
<text x="71.90" y="68.80" font-size="6.4" fill="#333" textLength="16.20" lengthAdjust="spacingAndGlyphs" >Sca-1</text>
<text x="88.90" y="65.90" font-size="5.2" fill="#333" >+</text>
<text x="81.90" y="76.60" font-size="6.4" fill="#333" text-anchor="middle" textLength="12.40" lengthAdjust="spacingAndGlyphs" >cells</text>
<text x="18.90" y="91.10" font-size="6.4" fill="#333" text-anchor="middle" textLength="16.20" lengthAdjust="spacingAndGlyphs" >Sca-1</text>
<text x="19.30" y="98.40" font-size="6.4" fill="#333" text-anchor="middle" textLength="24.20" lengthAdjust="spacingAndGlyphs" >depleted</text>
<text x="19.30" y="106.30" font-size="6.4" fill="#333" text-anchor="middle" textLength="12.30" lengthAdjust="spacingAndGlyphs" >cells</text>
<text x="75.60" y="91.30" font-size="6.4" fill="#333" text-anchor="middle" textLength="38.50" lengthAdjust="spacingAndGlyphs" >(CD45.2+CD</text>
<text x="76.00" y="98.80" font-size="6.4" fill="#333" text-anchor="middle" textLength="28.00" lengthAdjust="spacingAndGlyphs" >117)-ADC</text>
<path d="M42.4,82 L39.6,118.5" fill="none" stroke="#8a5aaa" stroke-width="0.7"/>
<path d="M38.3,118.2 L39.5,121.6 L40.9,118.4 Z" fill="#5a2d80"/>
<path d="M45.3,82 C46.5,95 47.5,112 49,119 C50.5,123 54,124.6 64.5,124.8" fill="none" stroke="#8a5aaa" stroke-width="0.7"/>
<path d="M64,123.4 L67.2,124.8 L64,126.2 Z" fill="#5a2d80"/>
<path d="M20.5,109 C21,116 26,121.5 33,123" fill="none" stroke="#666" stroke-width="0.5"/>
<path d="M32.5,121.8 L35.5,123.4 L32.4,124.3 Z" fill="#555"/>
<path d="M69,105 C60,104.5 50,108 47.2,114 C46.2,116 45.6,118 45.4,119.5" fill="none" stroke="#3d6db5" stroke-width="0.75"/>
<path d="M44.0,118.6 L45.2,121.9 L46.8,118.9 Z" fill="#2c58a0"/>
<path d="M69,108.6 C60,109 54.2,111 55,116 C56,119.5 60.5,121 64.8,121.2" fill="none" stroke="#3d6db5" stroke-width="0.75"/>
<path d="M64.5,119.8 L67.6,121.3 L64.5,122.6 Z" fill="#2c58a0"/>
<path d="M72.9,118 L72.9,110.2 L68.2,103.6 M75.3,118 L75.3,110.2 L79.8,103.6" fill="none" stroke="#7f9dc4" stroke-width="2.4"/>
<path d="M72.9,118 L72.9,110.2 L68.2,103.6 M75.3,118 L75.3,110.2 L79.8,103.6" fill="none" stroke="#cfdcec" stroke-width="0.7"/>
<path d="M67.8,106.3 L71.2,110.6" stroke="#d8605a" stroke-width="1.3"/>
<path d="M80.6,106.3 L77.2,110.6" stroke="#d8605a" stroke-width="1.3"/>
<path d="M87.6,104.8 C90.8,106.5 91.6,111 89.2,114.2 C89.6,110.5 89.2,107.5 87.6,104.8 Z" fill="#3a86d4" stroke="#2f6fb8" stroke-width="0.4"/>
<path d="M81.2,118.4 C84.5,119.2 87.8,117.6 89.6,114.6 C87.2,116.2 84.5,117.4 81.2,118.4 Z" fill="#3a86d4" stroke="#2f6fb8" stroke-width="0.5"/>
<circle cx="82.4" cy="110.0" r="4.1" fill="#3f9a2a" stroke="#1d4a16" stroke-width="0.7"/>
<circle cx="81.0" cy="111.5" r="0.7" fill="#8fd86a"/><circle cx="83.4" cy="108.4" r="0.6" fill="#8fd86a"/><circle cx="83.6" cy="112.2" r="0.5" fill="#8fd86a"/><circle cx="80.6" cy="108.9" r="0.45" fill="#8fd86a"/>
<ellipse cx="93.6" cy="117.1" rx="7.6" ry="5.9" transform="rotate(-42 93.6 117.1)" fill="#a4a4a4" stroke="#262626" stroke-width="1.0"/>
<path d="M88.5,118.5 C90,114 93.5,112.5 97.5,113 M89.5,121.5 C92,118 95,116.5 99,116.5 M91.5,114.5 C90.5,118 92,121.5 94.5,122 M95.5,112 C94.2,115 95.5,118.5 98.5,119.5 M91,118 C92.5,119.5 94,119 95.5,117" fill="none" stroke="#262626" stroke-width="0.75"/>
<g transform="translate(36.40 125.80) scale(1.0)">
<path d="M10.8,11.5 C14,11.5 15.6,9.5 15.2,6.5 C14.8,3.5 14.8,0 17.2,-2.3" fill="none" stroke="#444" stroke-width="0.7"/>
<path d="M0,0 C1,-0.8 2,-1.4 3.0,-1.6 L4.0,-4.4 L4.8,-1.5 C5.2,-1.4 5.4,-1.3 5.6,-1.2 L7.9,-2.7 L6.9,-0.2 C10.2,1.5 12.9,5 12.9,9 C12.9,10.8 12.2,11.5 11.0,11.6 L2.5,11.9 L2.8,10.8 L5.0,10.6 C4.2,9 3.8,7 4.2,5.2 L2.2,5.7 L3.8,3.8 C2.5,3 1.2,1.5 0,0 Z" fill="#141414"/>
<path d="M6.8,7.5 C6.2,9 6.8,10 8,10.5" fill="none" stroke="#666" stroke-width="0.5"/>
</g>
<g transform="translate(66.00 127.00) scale(1.0)">
<path d="M10.8,11.5 C14,11.5 15.6,9.5 15.2,6.5 C14.8,3.5 14.8,0 17.2,-2.3" fill="none" stroke="#444" stroke-width="0.7"/>
<path d="M0,0 C1,-0.8 2,-1.4 3.0,-1.6 L4.0,-4.4 L4.8,-1.5 C5.2,-1.4 5.4,-1.3 5.6,-1.2 L7.9,-2.7 L6.9,-0.2 C10.2,1.5 12.9,5 12.9,9 C12.9,10.8 12.2,11.5 11.0,11.6 L2.5,11.9 L2.8,10.8 L5.0,10.6 C4.2,9 3.8,7 4.2,5.2 L2.2,5.7 L3.8,3.8 C2.5,3 1.2,1.5 0,0 Z" fill="#141414"/>
<path d="M6.8,7.5 C6.2,9 6.8,10 8,10.5" fill="none" stroke="#666" stroke-width="0.5"/>
</g>
<text x="36.90" y="151.00" font-size="6.4" fill="#333" textLength="36.70" lengthAdjust="spacingAndGlyphs" >CD45.2/FVIII</text>
<text x="74.00" y="147.40" font-size="5.0" fill="#333" textLength="7.60" lengthAdjust="spacingAndGlyphs" >null</text>
<rect x="0.5" y="0.5" width="518.8" height="351.8" fill="none" stroke="#000" stroke-width="1.3"/>
</svg></body></html>
